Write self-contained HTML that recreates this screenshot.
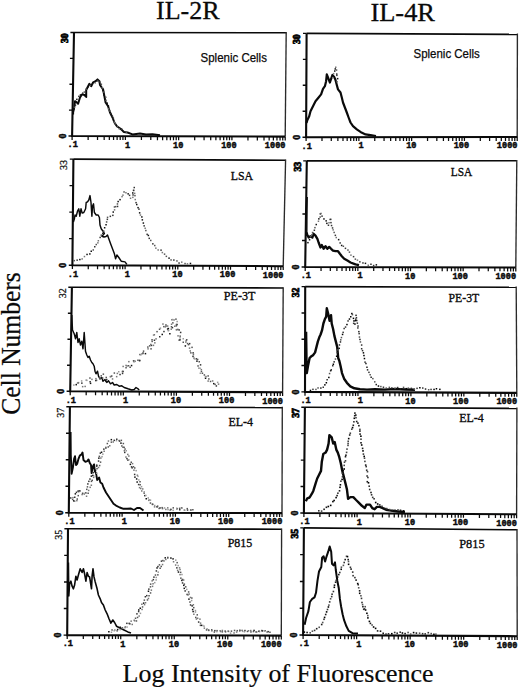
<!DOCTYPE html><html><head><meta charset="utf-8"><style>html,body{margin:0;padding:0;background:#fff;width:520px;height:689px;overflow:hidden}svg{display:block}text{font-family:"Liberation Serif",serif}</style></head><body>
<svg width="520" height="689" viewBox="0 0 520 689">
<rect width="520" height="689" fill="#fff"/>
<text x="156.0" y="19.3" font-size="26.2" fill="#0a0a0a" stroke="#0a0a0a" stroke-width="0.3" textLength="63.6" lengthAdjust="spacingAndGlyphs">IL-2R</text>
<text x="370.4" y="21.1" font-size="26.2" fill="#0a0a0a" stroke="#0a0a0a" stroke-width="0.3" textLength="64.6" lengthAdjust="spacingAndGlyphs">IL-4R</text>
<text transform="translate(20.2,414.8) rotate(-90)" font-size="28.2" fill="#0a0a0a" stroke="#0a0a0a" stroke-width="0.25" textLength="142.6" lengthAdjust="spacingAndGlyphs">Cell Numbers</text>
<text x="122.6" y="681.6" font-size="26" fill="#0a0a0a" stroke="#0a0a0a" stroke-width="0.2" textLength="311" lengthAdjust="spacingAndGlyphs">Log Intensity of Fluorescence</text>
<path d="M74.00 32.50L286.20 32.80" fill="none" stroke="#0a0a0a" stroke-width="1.6"/>
<path d="M286.20 32.00L285.20 136.60" fill="none" stroke="#2a2a2a" stroke-width="1.35"/>
<path d="M74.00 32.50L72.10 136.00L285.20 136.60" fill="none" stroke="#0a0a0a" stroke-width="2.1" stroke-linejoin="miter"/>
<path d="M68.50 136.00H72.10M68.97 110.12H72.57M69.45 84.25H73.05M69.93 58.38H73.53M70.40 32.50H74.00" stroke="#0a0a0a" stroke-width="1.4"/>
<path d="M72.10 136.00v3.9M88.14 136.05v3.9M97.52 136.07v3.9M104.17 136.09v3.9M109.34 136.10v3.9M113.56 136.12v3.9M117.12 136.13v3.9M120.21 136.14v3.9M122.94 136.14v3.9M125.38 136.15v3.9M141.41 136.20v3.9M150.79 136.22v3.9M157.45 136.24v3.9M162.61 136.25v3.9M166.83 136.27v3.9M170.40 136.28v3.9M173.49 136.29v3.9M176.21 136.29v3.9M178.65 136.30v3.9M194.69 136.35v3.9M204.07 136.37v3.9M210.72 136.39v3.9M215.89 136.40v3.9M220.11 136.42v3.9M223.67 136.43v3.9M226.76 136.44v3.9M229.49 136.44v3.9M231.92 136.45v3.9M247.96 136.50v3.9M257.34 136.52v3.9M264.00 136.54v3.9M269.16 136.55v3.9M273.38 136.57v3.9M276.95 136.58v3.9M280.04 136.59v3.9M282.76 136.59v3.9M285.20 136.60v3.9" stroke="#0a0a0a" stroke-width="1.25"/>
<text x="72.7" y="147.3" style="font-family:'Liberation Mono',monospace" font-size="8.6" font-weight="bold" fill="#0a0a0a" stroke="#0a0a0a" stroke-width="0.45" text-anchor="middle">.1</text>
<text x="130.2" y="147.5" style="font-family:'Liberation Mono',monospace" font-size="8.6" font-weight="bold" fill="#0a0a0a" stroke="#0a0a0a" stroke-width="0.45" text-anchor="end">1</text>
<text x="183.4" y="147.6" style="font-family:'Liberation Mono',monospace" font-size="8.6" font-weight="bold" fill="#0a0a0a" stroke="#0a0a0a" stroke-width="0.45" text-anchor="end">10</text>
<text x="236.7" y="147.8" style="font-family:'Liberation Mono',monospace" font-size="8.6" font-weight="bold" fill="#0a0a0a" stroke="#0a0a0a" stroke-width="0.45" text-anchor="end">100</text>
<text x="285.5" y="147.9" style="font-family:'Liberation Mono',monospace" font-size="8.6" font-weight="bold" fill="#0a0a0a" stroke="#0a0a0a" stroke-width="0.45" text-anchor="end">1000</text>
<text transform="translate(67.8,33.5) rotate(-90)" font-size="9.6" font-weight="bold" fill="#0a0a0a" stroke="#0a0a0a" stroke-width="0.9" text-anchor="end">30</text>
<text transform="translate(66.1,136.0) rotate(-90)" font-size="10" font-weight="bold" fill="#0a0a0a" stroke="#0a0a0a" stroke-width="0.5" text-anchor="middle">0</text>
<text x="200.6" y="62.0" style="font-family:'Liberation Sans',sans-serif" font-size="12.6" fill="#0a0a0a" stroke="#0a0a0a" stroke-width="0.25" textLength="66.3" lengthAdjust="spacingAndGlyphs">Splenic Cells</text>
<path d="M73.1 114.5 L73.1 112.5 L74.4 106.2 L75.0 101.2 L76.9 102.5 L78.1 103.8 L80.0 97.5 L81.9 94.4 L84.4 95.0 L86.2 96.9 L86.2 90.0 L88.1 86.2 L89.4 83.8 L91.2 86.2 L93.1 82.5 L95.6 81.2 L97.5 79.4 L99.4 81.2 L100.0 85.0 L103.1 89.4 L104.4 96.2 L105.6 102.5 L108.1 106.2 L110.0 112.5 L112.5 117.5 L114.4 122.5 L116.9 126.2 L120.6 128.8 L123.8 131.9 L127.5 132.5 L132.5 134.4 L140.0 133.5 L146.0 134.5 L152.5 134.3 L160.0 135.2" fill="none" stroke="#0a0a0a" stroke-width="2.0" stroke-linejoin="round"/>
<rect x="73.1" y="108.7" width="1.5" height="1.5" fill="#111"/>
<rect x="73.6" y="106.6" width="1.5" height="1.5" fill="#555"/>
<rect x="74.7" y="104.5" width="1.5" height="1.5" fill="#333"/>
<rect x="74.9" y="101.0" width="1.5" height="1.5" fill="#111"/>
<rect x="76.1" y="98.6" width="1.5" height="1.5" fill="#111"/>
<rect x="78.1" y="95.6" width="1.5" height="1.5" fill="#333"/>
<rect x="79.7" y="94.2" width="1.5" height="1.5" fill="#111"/>
<rect x="82.0" y="92.4" width="1.5" height="1.5" fill="#333"/>
<rect x="83.6" y="91.3" width="1.5" height="1.5" fill="#555"/>
<rect x="85.4" y="88.4" width="1.5" height="1.5" fill="#555"/>
<rect x="87.1" y="86.3" width="1.5" height="1.5" fill="#111"/>
<rect x="89.4" y="84.6" width="1.5" height="1.5" fill="#555"/>
<rect x="91.5" y="83.5" width="1.5" height="1.5" fill="#111"/>
<rect x="94.5" y="82.1" width="1.5" height="1.5" fill="#777"/>
<rect x="97.0" y="80.5" width="1.5" height="1.5" fill="#777"/>
<rect x="98.8" y="81.2" width="1.5" height="1.5" fill="#333"/>
<rect x="100.6" y="83.5" width="1.5" height="1.5" fill="#555"/>
<rect x="101.6" y="87.0" width="1.5" height="1.5" fill="#777"/>
<rect x="102.1" y="89.9" width="1.5" height="1.5" fill="#111"/>
<rect x="102.9" y="91.3" width="1.5" height="1.5" fill="#555"/>
<rect x="103.4" y="94.5" width="1.5" height="1.5" fill="#111"/>
<rect x="105.0" y="96.5" width="1.5" height="1.5" fill="#555"/>
<rect x="105.5" y="99.6" width="1.5" height="1.5" fill="#777"/>
<rect x="106.5" y="102.4" width="1.5" height="1.5" fill="#111"/>
<rect x="107.6" y="105.1" width="1.5" height="1.5" fill="#111"/>
<rect x="107.8" y="108.2" width="1.5" height="1.5" fill="#777"/>
<rect x="109.1" y="110.2" width="1.5" height="1.5" fill="#555"/>
<rect x="110.2" y="112.8" width="1.5" height="1.5" fill="#333"/>
<rect x="111.6" y="115.5" width="1.5" height="1.5" fill="#333"/>
<rect x="112.6" y="117.6" width="1.5" height="1.5" fill="#333"/>
<rect x="113.4" y="121.4" width="1.5" height="1.5" fill="#777"/>
<rect x="114.4" y="123.1" width="1.5" height="1.5" fill="#555"/>
<rect x="116.7" y="125.9" width="1.5" height="1.5" fill="#555"/>
<rect x="118.6" y="128.2" width="1.5" height="1.5" fill="#777"/>
<rect x="121.0" y="128.5" width="1.5" height="1.5" fill="#333"/>
<rect x="122.7" y="130.8" width="1.5" height="1.5" fill="#111"/>
<rect x="125.6" y="131.7" width="1.5" height="1.5" fill="#555"/>
<path d="M73.40 159.10L285.60 160.30" fill="none" stroke="#0a0a0a" stroke-width="1.6"/>
<path d="M285.60 159.50L283.20 266.20" fill="none" stroke="#2a2a2a" stroke-width="1.35"/>
<path d="M73.40 159.10L72.40 265.20L283.20 266.20" fill="none" stroke="#0a0a0a" stroke-width="2.1" stroke-linejoin="miter"/>
<path d="M68.80 265.20H72.40M69.05 238.67H72.65M69.30 212.15H72.90M69.55 185.62H73.15M69.80 159.10H73.40" stroke="#0a0a0a" stroke-width="1.4"/>
<path d="M72.40 265.20v3.9M88.26 265.28v3.9M97.54 265.32v3.9M104.13 265.35v3.9M109.24 265.37v3.9M113.41 265.39v3.9M116.94 265.41v3.9M119.99 265.43v3.9M122.69 265.44v3.9M125.10 265.45v3.9M140.96 265.53v3.9M150.24 265.57v3.9M156.83 265.60v3.9M161.94 265.62v3.9M166.11 265.64v3.9M169.64 265.66v3.9M172.69 265.68v3.9M175.39 265.69v3.9M177.80 265.70v3.9M193.66 265.78v3.9M202.94 265.82v3.9M209.53 265.85v3.9M214.64 265.87v3.9M218.81 265.89v3.9M222.34 265.91v3.9M225.39 265.93v3.9M228.09 265.94v3.9M230.50 265.95v3.9M246.36 266.03v3.9M255.64 266.07v3.9M262.23 266.10v3.9M267.34 266.12v3.9M271.51 266.14v3.9M275.04 266.16v3.9M278.09 266.18v3.9M280.79 266.19v3.9M283.20 266.20v3.9" stroke="#0a0a0a" stroke-width="1.25"/>
<text x="73.0" y="276.5" style="font-family:'Liberation Mono',monospace" font-size="8.6" font-weight="bold" fill="#0a0a0a" stroke="#0a0a0a" stroke-width="0.45" text-anchor="middle">.1</text>
<text x="129.9" y="276.8" style="font-family:'Liberation Mono',monospace" font-size="8.6" font-weight="bold" fill="#0a0a0a" stroke="#0a0a0a" stroke-width="0.45" text-anchor="end">1</text>
<text x="182.6" y="277.0" style="font-family:'Liberation Mono',monospace" font-size="8.6" font-weight="bold" fill="#0a0a0a" stroke="#0a0a0a" stroke-width="0.45" text-anchor="end">10</text>
<text x="235.3" y="277.2" style="font-family:'Liberation Mono',monospace" font-size="8.6" font-weight="bold" fill="#0a0a0a" stroke="#0a0a0a" stroke-width="0.45" text-anchor="end">100</text>
<text x="283.5" y="277.5" style="font-family:'Liberation Mono',monospace" font-size="8.6" font-weight="bold" fill="#0a0a0a" stroke="#0a0a0a" stroke-width="0.45" text-anchor="end">1000</text>
<text transform="translate(67.2,160.1) rotate(-90)" font-size="10" fill="#0a0a0a" stroke="#0a0a0a" stroke-width="0.25" text-anchor="end">33</text>
<text transform="translate(66.4,265.2) rotate(-90)" font-size="10" font-weight="bold" fill="#0a0a0a" stroke="#0a0a0a" stroke-width="0.5" text-anchor="middle">0</text>
<text x="230.8" y="179.7" font-size="13.3" fill="#0a0a0a" stroke="#0a0a0a" stroke-width="0.35" textLength="22.3" lengthAdjust="spacingAndGlyphs">LSA</text>
<path d="M73.4 222.0 L74.4 218.8 L75.0 215.0 L76.2 216.2 L77.5 211.2 L78.8 208.8 L79.8 216.2 L81.0 208.8 L82.2 213.1 L83.8 212.5 L85.6 208.8 L86.2 202.5 L87.5 201.9 L88.8 200.0 L90.0 195.6 L91.0 202.5 L91.9 216.2 L92.5 206.2 L93.5 203.8 L94.4 212.5 L96.2 215.0 L98.1 215.0 L99.4 217.5 L100.0 225.0 L101.2 228.8 L103.1 231.2 L104.4 233.5 L101.9 236.2 L104.0 237.0 L106.0 236.5 L107.5 235.0 L108.8 238.8 L110.6 243.8 L112.5 248.8 L114.4 253.8 L115.6 258.8 L116.9 255.0 L118.8 257.5 L121.2 261.2 L125.0 261.9 L126.9 264.4" fill="none" stroke="#0a0a0a" stroke-width="1.45" stroke-linejoin="round"/>
<rect x="73.5" y="259.9" width="1.5" height="1.5" fill="#555"/>
<rect x="76.4" y="259.4" width="1.5" height="1.5" fill="#333"/>
<rect x="79.1" y="258.8" width="1.5" height="1.5" fill="#111"/>
<rect x="81.4" y="258.2" width="1.5" height="1.5" fill="#777"/>
<rect x="83.7" y="255.8" width="1.5" height="1.5" fill="#777"/>
<rect x="86.3" y="253.7" width="1.5" height="1.5" fill="#111"/>
<rect x="89.1" y="253.2" width="1.5" height="1.5" fill="#111"/>
<rect x="90.5" y="250.5" width="1.5" height="1.5" fill="#111"/>
<rect x="92.5" y="249.2" width="1.5" height="1.5" fill="#555"/>
<rect x="94.0" y="246.0" width="1.5" height="1.5" fill="#333"/>
<rect x="95.5" y="243.8" width="1.5" height="1.5" fill="#555"/>
<rect x="97.1" y="242.1" width="1.5" height="1.5" fill="#777"/>
<rect x="97.6" y="240.0" width="1.5" height="1.5" fill="#777"/>
<rect x="99.4" y="236.7" width="1.5" height="1.5" fill="#333"/>
<rect x="100.5" y="234.4" width="1.5" height="1.5" fill="#555"/>
<rect x="102.1" y="232.5" width="1.5" height="1.5" fill="#111"/>
<rect x="103.0" y="230.4" width="1.5" height="1.5" fill="#555"/>
<rect x="103.9" y="227.0" width="1.5" height="1.5" fill="#111"/>
<rect x="105.3" y="224.0" width="1.5" height="1.5" fill="#111"/>
<rect x="105.9" y="221.2" width="1.5" height="1.5" fill="#555"/>
<rect x="106.6" y="218.6" width="1.5" height="1.5" fill="#333"/>
<rect x="106.8" y="216.6" width="1.5" height="1.5" fill="#555"/>
<rect x="109.6" y="215.6" width="1.5" height="1.5" fill="#333"/>
<rect x="112.1" y="214.6" width="1.5" height="1.5" fill="#333"/>
<rect x="112.5" y="211.3" width="1.5" height="1.5" fill="#111"/>
<rect x="113.8" y="209.1" width="1.5" height="1.5" fill="#777"/>
<rect x="113.7" y="206.2" width="1.5" height="1.5" fill="#555"/>
<rect x="114.9" y="205.9" width="1.5" height="1.5" fill="#555"/>
<rect x="116.8" y="205.7" width="1.5" height="1.5" fill="#333"/>
<rect x="116.7" y="203.2" width="1.5" height="1.5" fill="#555"/>
<rect x="117.4" y="200.8" width="1.5" height="1.5" fill="#111"/>
<rect x="119.3" y="198.9" width="1.5" height="1.5" fill="#111"/>
<rect x="121.3" y="195.9" width="1.5" height="1.5" fill="#777"/>
<rect x="122.2" y="194.4" width="1.5" height="1.5" fill="#777"/>
<rect x="123.3" y="191.2" width="1.5" height="1.5" fill="#555"/>
<rect x="125.2" y="192.0" width="1.5" height="1.5" fill="#777"/>
<rect x="127.4" y="193.1" width="1.5" height="1.5" fill="#111"/>
<rect x="128.8" y="194.6" width="1.5" height="1.5" fill="#333"/>
<rect x="129.8" y="197.5" width="1.5" height="1.5" fill="#777"/>
<rect x="132.1" y="196.6" width="1.5" height="1.5" fill="#777"/>
<rect x="132.3" y="194.2" width="1.5" height="1.5" fill="#333"/>
<rect x="132.0" y="192.2" width="1.5" height="1.5" fill="#111"/>
<rect x="132.8" y="189.7" width="1.5" height="1.5" fill="#777"/>
<rect x="133.5" y="186.8" width="1.5" height="1.5" fill="#333"/>
<rect x="132.9" y="189.6" width="1.5" height="1.5" fill="#333"/>
<rect x="133.9" y="192.6" width="1.5" height="1.5" fill="#777"/>
<rect x="134.2" y="194.9" width="1.5" height="1.5" fill="#555"/>
<rect x="134.5" y="198.8" width="1.5" height="1.5" fill="#777"/>
<rect x="135.3" y="201.9" width="1.5" height="1.5" fill="#333"/>
<rect x="136.0" y="203.8" width="1.5" height="1.5" fill="#111"/>
<rect x="137.3" y="206.9" width="1.5" height="1.5" fill="#111"/>
<rect x="138.2" y="208.4" width="1.5" height="1.5" fill="#333"/>
<rect x="138.9" y="212.1" width="1.5" height="1.5" fill="#111"/>
<rect x="139.7" y="214.3" width="1.5" height="1.5" fill="#777"/>
<rect x="141.1" y="216.2" width="1.5" height="1.5" fill="#111"/>
<rect x="141.6" y="219.1" width="1.5" height="1.5" fill="#111"/>
<rect x="142.6" y="222.3" width="1.5" height="1.5" fill="#111"/>
<rect x="143.4" y="225.1" width="1.5" height="1.5" fill="#333"/>
<rect x="144.4" y="227.5" width="1.5" height="1.5" fill="#777"/>
<rect x="145.1" y="229.8" width="1.5" height="1.5" fill="#555"/>
<rect x="146.4" y="233.6" width="1.5" height="1.5" fill="#333"/>
<rect x="147.6" y="234.7" width="1.5" height="1.5" fill="#111"/>
<rect x="148.5" y="237.6" width="1.5" height="1.5" fill="#333"/>
<rect x="150.0" y="239.7" width="1.5" height="1.5" fill="#555"/>
<rect x="152.1" y="243.1" width="1.5" height="1.5" fill="#333"/>
<rect x="154.0" y="244.8" width="1.5" height="1.5" fill="#555"/>
<rect x="155.1" y="247.4" width="1.5" height="1.5" fill="#777"/>
<rect x="157.4" y="249.2" width="1.5" height="1.5" fill="#777"/>
<rect x="160.3" y="249.4" width="1.5" height="1.5" fill="#333"/>
<rect x="161.6" y="251.8" width="1.5" height="1.5" fill="#777"/>
<rect x="163.8" y="253.4" width="1.5" height="1.5" fill="#555"/>
<rect x="165.6" y="255.6" width="1.5" height="1.5" fill="#555"/>
<rect x="168.3" y="257.4" width="1.5" height="1.5" fill="#111"/>
<rect x="170.3" y="259.2" width="1.5" height="1.5" fill="#555"/>
<rect x="173.1" y="259.3" width="1.5" height="1.5" fill="#333"/>
<rect x="176.2" y="260.2" width="1.5" height="1.5" fill="#555"/>
<rect x="178.3" y="262.3" width="1.5" height="1.5" fill="#333"/>
<rect x="181.0" y="261.4" width="1.5" height="1.5" fill="#777"/>
<rect x="184.3" y="262.8" width="1.5" height="1.5" fill="#555"/>
<rect x="186.7" y="263.1" width="1.5" height="1.5" fill="#777"/>
<rect x="189.7" y="262.7" width="1.5" height="1.5" fill="#111"/>
<path d="M71.90 287.30L283.20 288.00" fill="none" stroke="#0a0a0a" stroke-width="1.6"/>
<path d="M283.20 287.20L282.60 392.20" fill="none" stroke="#2a2a2a" stroke-width="1.35"/>
<path d="M71.90 287.30L70.20 391.30L282.60 392.20" fill="none" stroke="#0a0a0a" stroke-width="2.1" stroke-linejoin="miter"/>
<path d="M66.60 391.30H70.20M67.03 365.30H70.62M67.45 339.30H71.05M67.88 313.30H71.48M68.30 287.30H71.90" stroke="#0a0a0a" stroke-width="1.4"/>
<path d="M70.20 391.30v3.9M86.18 391.37v3.9M95.54 391.41v3.9M102.17 391.44v3.9M107.32 391.46v3.9M111.52 391.48v3.9M115.07 391.49v3.9M118.15 391.50v3.9M120.87 391.51v3.9M123.30 391.52v3.9M139.28 391.59v3.9M148.64 391.63v3.9M155.27 391.66v3.9M160.42 391.68v3.9M164.62 391.70v3.9M168.17 391.72v3.9M171.25 391.73v3.9M173.97 391.74v3.9M176.40 391.75v3.9M192.38 391.82v3.9M201.74 391.86v3.9M208.37 391.89v3.9M213.52 391.91v3.9M217.72 391.93v3.9M221.27 391.94v3.9M224.35 391.95v3.9M227.07 391.96v3.9M229.50 391.98v3.9M245.48 392.04v3.9M254.84 392.08v3.9M261.47 392.11v3.9M266.62 392.13v3.9M270.82 392.15v3.9M274.37 392.17v3.9M277.45 392.18v3.9M280.17 392.19v3.9M282.60 392.20v3.9" stroke="#0a0a0a" stroke-width="1.25"/>
<text x="70.8" y="402.6" style="font-family:'Liberation Mono',monospace" font-size="8.6" font-weight="bold" fill="#0a0a0a" stroke="#0a0a0a" stroke-width="0.45" text-anchor="middle">.1</text>
<text x="128.1" y="402.8" style="font-family:'Liberation Mono',monospace" font-size="8.6" font-weight="bold" fill="#0a0a0a" stroke="#0a0a0a" stroke-width="0.45" text-anchor="end">1</text>
<text x="181.2" y="403.1" style="font-family:'Liberation Mono',monospace" font-size="8.6" font-weight="bold" fill="#0a0a0a" stroke="#0a0a0a" stroke-width="0.45" text-anchor="end">10</text>
<text x="234.3" y="403.3" style="font-family:'Liberation Mono',monospace" font-size="8.6" font-weight="bold" fill="#0a0a0a" stroke="#0a0a0a" stroke-width="0.45" text-anchor="end">100</text>
<text x="282.9" y="403.5" style="font-family:'Liberation Mono',monospace" font-size="8.6" font-weight="bold" fill="#0a0a0a" stroke="#0a0a0a" stroke-width="0.45" text-anchor="end">1000</text>
<text transform="translate(65.7,288.3) rotate(-90)" font-size="10" fill="#0a0a0a" stroke="#0a0a0a" stroke-width="0.25" text-anchor="end">32</text>
<text transform="translate(64.2,391.3) rotate(-90)" font-size="10" font-weight="bold" fill="#0a0a0a" stroke="#0a0a0a" stroke-width="0.5" text-anchor="middle">0</text>
<text x="223.8" y="300.4" font-size="13.3" fill="#0a0a0a" stroke="#0a0a0a" stroke-width="0.35" textLength="31.6" lengthAdjust="spacingAndGlyphs">PE-3T</text>
<path d="M71.8 315.0 L72.5 330.0 L74.2 333.8 L75.5 338.8 L76.8 332.5 L78.0 342.5 L79.2 338.8 L80.5 345.0 L81.8 341.2 L83.0 348.8 L84.2 332.5 L85.5 351.2 L86.8 355.0 L88.0 357.5 L89.2 356.2 L90.5 360.0 L91.8 362.5 L93.0 363.8 L94.2 366.2 L95.0 371.2 L96.0 373.8 L97.5 371.2 L98.5 376.2 L100.0 378.8 L101.8 377.5 L103.0 381.2 L105.0 379.5 L106.8 382.5 L108.5 380.8 L110.5 383.8 L112.5 382.5 L114.2 385.0 L116.8 384.5 L119.2 386.2 L121.8 385.8 L124.2 387.5 L128.0 388.8 L131.8 390.0 L134.2 389.5 L136.0 387.5 L138.0 388.8 L139.2 390.0" fill="none" stroke="#0a0a0a" stroke-width="1.45" stroke-linejoin="round"/>
<rect x="75.5" y="383.9" width="1.5" height="1.5" fill="#111"/>
<rect x="76.9" y="382.5" width="1.5" height="1.5" fill="#111"/>
<rect x="81.1" y="382.4" width="1.5" height="1.5" fill="#333"/>
<rect x="81.9" y="385.9" width="1.5" height="1.5" fill="#777"/>
<rect x="84.4" y="385.7" width="1.5" height="1.5" fill="#777"/>
<rect x="89.4" y="381.0" width="1.5" height="1.5" fill="#333"/>
<rect x="89.8" y="382.6" width="1.5" height="1.5" fill="#111"/>
<rect x="95.0" y="379.8" width="1.5" height="1.5" fill="#333"/>
<rect x="95.8" y="379.6" width="1.5" height="1.5" fill="#555"/>
<rect x="99.3" y="378.3" width="1.5" height="1.5" fill="#777"/>
<rect x="101.9" y="377.3" width="1.5" height="1.5" fill="#555"/>
<rect x="105.3" y="380.6" width="1.5" height="1.5" fill="#111"/>
<rect x="106.0" y="378.8" width="1.5" height="1.5" fill="#333"/>
<rect x="110.1" y="375.8" width="1.5" height="1.5" fill="#777"/>
<rect x="111.8" y="378.2" width="1.5" height="1.5" fill="#777"/>
<rect x="115.9" y="375.9" width="1.5" height="1.5" fill="#777"/>
<rect x="119.3" y="373.8" width="1.5" height="1.5" fill="#333"/>
<rect x="121.8" y="372.7" width="1.5" height="1.5" fill="#333"/>
<rect x="122.2" y="370.7" width="1.5" height="1.5" fill="#111"/>
<rect x="125.3" y="367.0" width="1.5" height="1.5" fill="#555"/>
<rect x="126.3" y="365.2" width="1.5" height="1.5" fill="#777"/>
<rect x="129.4" y="366.5" width="1.5" height="1.5" fill="#555"/>
<rect x="130.8" y="364.8" width="1.5" height="1.5" fill="#111"/>
<rect x="133.0" y="360.8" width="1.5" height="1.5" fill="#777"/>
<rect x="134.2" y="360.5" width="1.5" height="1.5" fill="#555"/>
<rect x="139.0" y="359.8" width="1.5" height="1.5" fill="#333"/>
<rect x="138.7" y="359.8" width="1.5" height="1.5" fill="#333"/>
<rect x="141.3" y="353.0" width="1.5" height="1.5" fill="#777"/>
<rect x="142.3" y="352.3" width="1.5" height="1.5" fill="#333"/>
<rect x="144.7" y="352.9" width="1.5" height="1.5" fill="#111"/>
<rect x="147.3" y="348.1" width="1.5" height="1.5" fill="#777"/>
<rect x="150.3" y="348.1" width="1.5" height="1.5" fill="#555"/>
<rect x="150.7" y="344.7" width="1.5" height="1.5" fill="#333"/>
<rect x="152.7" y="344.6" width="1.5" height="1.5" fill="#777"/>
<rect x="154.1" y="342.1" width="1.5" height="1.5" fill="#777"/>
<rect x="153.7" y="339.5" width="1.5" height="1.5" fill="#333"/>
<rect x="155.3" y="338.1" width="1.5" height="1.5" fill="#777"/>
<rect x="159.0" y="336.0" width="1.5" height="1.5" fill="#333"/>
<rect x="161.5" y="333.7" width="1.5" height="1.5" fill="#111"/>
<rect x="163.2" y="330.8" width="1.5" height="1.5" fill="#333"/>
<rect x="163.1" y="325.9" width="1.5" height="1.5" fill="#555"/>
<rect x="166.9" y="325.3" width="1.5" height="1.5" fill="#777"/>
<rect x="166.9" y="328.3" width="1.5" height="1.5" fill="#333"/>
<rect x="167.6" y="327.8" width="1.5" height="1.5" fill="#111"/>
<rect x="169.1" y="333.0" width="1.5" height="1.5" fill="#111"/>
<rect x="170.5" y="328.4" width="1.5" height="1.5" fill="#777"/>
<rect x="170.7" y="326.0" width="1.5" height="1.5" fill="#555"/>
<rect x="171.7" y="326.9" width="1.5" height="1.5" fill="#333"/>
<rect x="174.0" y="325.5" width="1.5" height="1.5" fill="#777"/>
<rect x="175.2" y="318.4" width="1.5" height="1.5" fill="#555"/>
<rect x="176.3" y="323.8" width="1.5" height="1.5" fill="#333"/>
<rect x="175.7" y="323.8" width="1.5" height="1.5" fill="#555"/>
<rect x="178.4" y="329.2" width="1.5" height="1.5" fill="#333"/>
<rect x="177.1" y="328.7" width="1.5" height="1.5" fill="#555"/>
<rect x="179.9" y="331.7" width="1.5" height="1.5" fill="#333"/>
<rect x="179.4" y="335.4" width="1.5" height="1.5" fill="#555"/>
<rect x="179.2" y="339.1" width="1.5" height="1.5" fill="#111"/>
<rect x="182.5" y="341.5" width="1.5" height="1.5" fill="#555"/>
<rect x="184.6" y="345.2" width="1.5" height="1.5" fill="#111"/>
<rect x="185.4" y="339.8" width="1.5" height="1.5" fill="#777"/>
<rect x="188.9" y="342.9" width="1.5" height="1.5" fill="#333"/>
<rect x="187.8" y="343.9" width="1.5" height="1.5" fill="#555"/>
<rect x="191.3" y="346.6" width="1.5" height="1.5" fill="#555"/>
<rect x="192.4" y="352.1" width="1.5" height="1.5" fill="#333"/>
<rect x="192.6" y="355.5" width="1.5" height="1.5" fill="#777"/>
<rect x="192.7" y="353.5" width="1.5" height="1.5" fill="#777"/>
<rect x="195.6" y="358.1" width="1.5" height="1.5" fill="#333"/>
<rect x="196.2" y="360.4" width="1.5" height="1.5" fill="#111"/>
<rect x="198.5" y="361.0" width="1.5" height="1.5" fill="#555"/>
<rect x="199.8" y="364.1" width="1.5" height="1.5" fill="#333"/>
<rect x="200.7" y="370.7" width="1.5" height="1.5" fill="#555"/>
<rect x="200.6" y="368.9" width="1.5" height="1.5" fill="#777"/>
<rect x="203.6" y="374.2" width="1.5" height="1.5" fill="#555"/>
<rect x="204.8" y="377.5" width="1.5" height="1.5" fill="#111"/>
<rect x="205.1" y="375.8" width="1.5" height="1.5" fill="#555"/>
<rect x="208.1" y="378.2" width="1.5" height="1.5" fill="#555"/>
<rect x="209.8" y="380.7" width="1.5" height="1.5" fill="#555"/>
<rect x="213.0" y="382.9" width="1.5" height="1.5" fill="#111"/>
<rect x="215.6" y="385.2" width="1.5" height="1.5" fill="#333"/>
<rect x="217.8" y="383.4" width="1.5" height="1.5" fill="#777"/>
<rect x="73.1" y="384.3" width="1.5" height="1.5" fill="#999"/>
<rect x="77.0" y="382.5" width="1.5" height="1.5" fill="#999"/>
<rect x="77.8" y="381.9" width="1.5" height="1.5" fill="#777"/>
<rect x="80.9" y="380.2" width="1.5" height="1.5" fill="#999"/>
<rect x="85.4" y="379.4" width="1.5" height="1.5" fill="#999"/>
<rect x="86.1" y="379.6" width="1.5" height="1.5" fill="#999"/>
<rect x="89.2" y="377.3" width="1.5" height="1.5" fill="#555"/>
<rect x="91.2" y="378.6" width="1.5" height="1.5" fill="#777"/>
<rect x="95.2" y="377.9" width="1.5" height="1.5" fill="#777"/>
<rect x="99.0" y="377.1" width="1.5" height="1.5" fill="#555"/>
<rect x="100.5" y="375.1" width="1.5" height="1.5" fill="#555"/>
<rect x="102.6" y="373.4" width="1.5" height="1.5" fill="#555"/>
<rect x="105.5" y="376.7" width="1.5" height="1.5" fill="#555"/>
<rect x="109.6" y="375.9" width="1.5" height="1.5" fill="#777"/>
<rect x="111.0" y="375.3" width="1.5" height="1.5" fill="#555"/>
<rect x="113.6" y="372.3" width="1.5" height="1.5" fill="#555"/>
<rect x="116.6" y="372.7" width="1.5" height="1.5" fill="#777"/>
<rect x="118.0" y="371.0" width="1.5" height="1.5" fill="#999"/>
<rect x="121.7" y="370.8" width="1.5" height="1.5" fill="#555"/>
<rect x="122.4" y="365.7" width="1.5" height="1.5" fill="#777"/>
<rect x="125.3" y="364.7" width="1.5" height="1.5" fill="#777"/>
<rect x="127.8" y="365.0" width="1.5" height="1.5" fill="#555"/>
<rect x="128.1" y="360.9" width="1.5" height="1.5" fill="#777"/>
<rect x="132.8" y="360.0" width="1.5" height="1.5" fill="#555"/>
<rect x="133.7" y="360.9" width="1.5" height="1.5" fill="#999"/>
<rect x="137.2" y="359.5" width="1.5" height="1.5" fill="#555"/>
<rect x="139.2" y="353.8" width="1.5" height="1.5" fill="#555"/>
<rect x="140.2" y="354.0" width="1.5" height="1.5" fill="#999"/>
<rect x="142.5" y="352.7" width="1.5" height="1.5" fill="#777"/>
<rect x="142.8" y="350.4" width="1.5" height="1.5" fill="#555"/>
<rect x="147.1" y="346.3" width="1.5" height="1.5" fill="#555"/>
<rect x="148.9" y="345.1" width="1.5" height="1.5" fill="#555"/>
<rect x="150.0" y="343.7" width="1.5" height="1.5" fill="#777"/>
<rect x="151.3" y="339.0" width="1.5" height="1.5" fill="#555"/>
<rect x="151.4" y="340.7" width="1.5" height="1.5" fill="#555"/>
<rect x="152.8" y="334.4" width="1.5" height="1.5" fill="#999"/>
<rect x="153.6" y="334.0" width="1.5" height="1.5" fill="#777"/>
<rect x="156.3" y="330.9" width="1.5" height="1.5" fill="#555"/>
<rect x="158.8" y="328.5" width="1.5" height="1.5" fill="#555"/>
<rect x="159.7" y="327.4" width="1.5" height="1.5" fill="#999"/>
<rect x="162.2" y="323.3" width="1.5" height="1.5" fill="#777"/>
<rect x="165.2" y="324.2" width="1.5" height="1.5" fill="#555"/>
<rect x="164.6" y="326.1" width="1.5" height="1.5" fill="#777"/>
<rect x="165.4" y="325.4" width="1.5" height="1.5" fill="#777"/>
<rect x="167.6" y="329.8" width="1.5" height="1.5" fill="#777"/>
<rect x="167.8" y="329.7" width="1.5" height="1.5" fill="#999"/>
<rect x="170.8" y="323.5" width="1.5" height="1.5" fill="#777"/>
<rect x="172.1" y="322.1" width="1.5" height="1.5" fill="#555"/>
<rect x="171.1" y="319.0" width="1.5" height="1.5" fill="#777"/>
<rect x="171.8" y="318.8" width="1.5" height="1.5" fill="#999"/>
<rect x="173.3" y="319.2" width="1.5" height="1.5" fill="#777"/>
<rect x="176.4" y="320.8" width="1.5" height="1.5" fill="#999"/>
<rect x="175.6" y="325.1" width="1.5" height="1.5" fill="#555"/>
<rect x="175.6" y="329.0" width="1.5" height="1.5" fill="#777"/>
<rect x="176.0" y="328.9" width="1.5" height="1.5" fill="#777"/>
<rect x="177.3" y="335.1" width="1.5" height="1.5" fill="#777"/>
<rect x="178.4" y="339.4" width="1.5" height="1.5" fill="#555"/>
<rect x="179.3" y="337.1" width="1.5" height="1.5" fill="#999"/>
<rect x="182.5" y="338.0" width="1.5" height="1.5" fill="#999"/>
<rect x="185.1" y="341.3" width="1.5" height="1.5" fill="#777"/>
<rect x="186.0" y="339.0" width="1.5" height="1.5" fill="#555"/>
<rect x="186.8" y="342.8" width="1.5" height="1.5" fill="#555"/>
<rect x="188.8" y="347.4" width="1.5" height="1.5" fill="#777"/>
<rect x="189.5" y="350.2" width="1.5" height="1.5" fill="#777"/>
<rect x="190.1" y="352.1" width="1.5" height="1.5" fill="#555"/>
<rect x="192.1" y="355.7" width="1.5" height="1.5" fill="#555"/>
<rect x="193.2" y="357.3" width="1.5" height="1.5" fill="#777"/>
<rect x="193.7" y="358.1" width="1.5" height="1.5" fill="#999"/>
<rect x="196.9" y="358.7" width="1.5" height="1.5" fill="#555"/>
<rect x="197.3" y="365.2" width="1.5" height="1.5" fill="#555"/>
<rect x="198.0" y="367.4" width="1.5" height="1.5" fill="#999"/>
<rect x="199.3" y="367.5" width="1.5" height="1.5" fill="#999"/>
<rect x="199.6" y="372.5" width="1.5" height="1.5" fill="#999"/>
<rect x="201.7" y="372.5" width="1.5" height="1.5" fill="#555"/>
<rect x="204.7" y="376.1" width="1.5" height="1.5" fill="#999"/>
<rect x="207.4" y="375.2" width="1.5" height="1.5" fill="#555"/>
<rect x="207.4" y="380.3" width="1.5" height="1.5" fill="#777"/>
<rect x="211.9" y="380.2" width="1.5" height="1.5" fill="#777"/>
<rect x="214.3" y="383.6" width="1.5" height="1.5" fill="#555"/>
<rect x="216.9" y="381.6" width="1.5" height="1.5" fill="#999"/>
<path d="M69.90 406.80L282.30 407.60" fill="none" stroke="#0a0a0a" stroke-width="1.6"/>
<path d="M282.30 406.80L282.00 513.10" fill="none" stroke="#2a2a2a" stroke-width="1.35"/>
<path d="M69.90 406.80L68.80 512.80L282.00 513.10" fill="none" stroke="#0a0a0a" stroke-width="2.1" stroke-linejoin="miter"/>
<path d="M65.20 512.80H68.80M65.48 486.30H69.08M65.75 459.80H69.35M66.03 433.30H69.62M66.30 406.80H69.90" stroke="#0a0a0a" stroke-width="1.4"/>
<path d="M68.80 512.80v3.9M84.84 512.82v3.9M94.23 512.84v3.9M100.89 512.85v3.9M106.06 512.85v3.9M110.28 512.86v3.9M113.84 512.86v3.9M116.93 512.87v3.9M119.66 512.87v3.9M122.10 512.88v3.9M138.14 512.90v3.9M147.53 512.91v3.9M154.19 512.92v3.9M159.36 512.93v3.9M163.58 512.93v3.9M167.14 512.94v3.9M170.23 512.94v3.9M172.96 512.95v3.9M175.40 512.95v3.9M191.44 512.97v3.9M200.83 512.99v3.9M207.49 513.00v3.9M212.66 513.00v3.9M216.88 513.01v3.9M220.44 513.01v3.9M223.53 513.02v3.9M226.26 513.02v3.9M228.70 513.02v3.9M244.74 513.05v3.9M254.13 513.06v3.9M260.79 513.07v3.9M265.96 513.08v3.9M270.18 513.08v3.9M273.74 513.09v3.9M276.83 513.09v3.9M279.56 513.10v3.9M282.00 513.10v3.9" stroke="#0a0a0a" stroke-width="1.25"/>
<text x="69.4" y="524.1" style="font-family:'Liberation Mono',monospace" font-size="8.6" font-weight="bold" fill="#0a0a0a" stroke="#0a0a0a" stroke-width="0.45" text-anchor="middle">.1</text>
<text x="126.9" y="524.2" style="font-family:'Liberation Mono',monospace" font-size="8.6" font-weight="bold" fill="#0a0a0a" stroke="#0a0a0a" stroke-width="0.45" text-anchor="end">1</text>
<text x="180.2" y="524.2" style="font-family:'Liberation Mono',monospace" font-size="8.6" font-weight="bold" fill="#0a0a0a" stroke="#0a0a0a" stroke-width="0.45" text-anchor="end">10</text>
<text x="233.5" y="524.3" style="font-family:'Liberation Mono',monospace" font-size="8.6" font-weight="bold" fill="#0a0a0a" stroke="#0a0a0a" stroke-width="0.45" text-anchor="end">100</text>
<text x="282.3" y="524.4" style="font-family:'Liberation Mono',monospace" font-size="8.6" font-weight="bold" fill="#0a0a0a" stroke="#0a0a0a" stroke-width="0.45" text-anchor="end">1000</text>
<text transform="translate(63.7,407.8) rotate(-90)" font-size="10" fill="#0a0a0a" stroke="#0a0a0a" stroke-width="0.25" text-anchor="end">37</text>
<text transform="translate(62.8,512.8) rotate(-90)" font-size="10" font-weight="bold" fill="#0a0a0a" stroke="#0a0a0a" stroke-width="0.5" text-anchor="middle">0</text>
<text x="228.5" y="426.3" font-size="13.3" fill="#0a0a0a" stroke="#0a0a0a" stroke-width="0.35" textLength="24.6" lengthAdjust="spacingAndGlyphs">EL-4</text>
<path d="M70.6 432.0 L70.8 455.0 L71.6 473.8 L72.9 467.5 L74.1 458.8 L75.0 456.2 L76.0 465.0 L77.2 463.8 L78.5 458.8 L79.8 455.6 L81.6 454.4 L82.5 452.5 L83.5 460.0 L85.4 461.9 L87.2 461.2 L88.5 459.4 L89.8 463.1 L91.0 465.0 L91.6 473.1 L92.9 466.2 L94.1 464.4 L94.8 471.2 L96.0 473.1 L97.2 480.0 L99.1 477.5 L100.4 482.5 L102.2 483.8 L103.5 487.5 L106.0 492.5 L108.5 496.2 L111.0 500.0 L113.5 503.8 L116.0 505.6 L119.8 507.5 L123.5 508.8 L127.2 508.8 L131.0 508.5 L134.0 510.0 L137.0 508.0 L140.0 508.0 L143.5 510.5" fill="none" stroke="#0a0a0a" stroke-width="1.9" stroke-linejoin="round"/>
<rect x="70.0" y="497.2" width="1.5" height="1.5" fill="#333"/>
<rect x="71.9" y="498.7" width="1.5" height="1.5" fill="#555"/>
<rect x="73.0" y="500.1" width="1.5" height="1.5" fill="#111"/>
<rect x="74.0" y="496.5" width="1.5" height="1.5" fill="#333"/>
<rect x="74.6" y="493.1" width="1.5" height="1.5" fill="#111"/>
<rect x="75.7" y="491.6" width="1.5" height="1.5" fill="#333"/>
<rect x="77.4" y="490.4" width="1.5" height="1.5" fill="#111"/>
<rect x="78.9" y="490.0" width="1.5" height="1.5" fill="#111"/>
<rect x="81.4" y="493.8" width="1.5" height="1.5" fill="#777"/>
<rect x="83.5" y="493.3" width="1.5" height="1.5" fill="#777"/>
<rect x="85.0" y="492.2" width="1.5" height="1.5" fill="#111"/>
<rect x="86.0" y="488.6" width="1.5" height="1.5" fill="#555"/>
<rect x="86.7" y="486.1" width="1.5" height="1.5" fill="#555"/>
<rect x="87.1" y="483.2" width="1.5" height="1.5" fill="#333"/>
<rect x="88.1" y="480.6" width="1.5" height="1.5" fill="#333"/>
<rect x="89.2" y="478.3" width="1.5" height="1.5" fill="#333"/>
<rect x="90.6" y="475.4" width="1.5" height="1.5" fill="#111"/>
<rect x="92.1" y="474.7" width="1.5" height="1.5" fill="#111"/>
<rect x="92.5" y="471.9" width="1.5" height="1.5" fill="#333"/>
<rect x="94.8" y="469.5" width="1.5" height="1.5" fill="#111"/>
<rect x="96.0" y="465.3" width="1.5" height="1.5" fill="#111"/>
<rect x="96.0" y="464.4" width="1.5" height="1.5" fill="#333"/>
<rect x="97.8" y="460.3" width="1.5" height="1.5" fill="#333"/>
<rect x="98.1" y="457.4" width="1.5" height="1.5" fill="#111"/>
<rect x="98.6" y="455.6" width="1.5" height="1.5" fill="#555"/>
<rect x="99.6" y="452.4" width="1.5" height="1.5" fill="#333"/>
<rect x="100.8" y="451.5" width="1.5" height="1.5" fill="#111"/>
<rect x="103.1" y="448.4" width="1.5" height="1.5" fill="#333"/>
<rect x="105.1" y="446.6" width="1.5" height="1.5" fill="#777"/>
<rect x="106.6" y="442.8" width="1.5" height="1.5" fill="#555"/>
<rect x="107.7" y="440.3" width="1.5" height="1.5" fill="#777"/>
<rect x="110.6" y="438.9" width="1.5" height="1.5" fill="#111"/>
<rect x="113.5" y="439.6" width="1.5" height="1.5" fill="#333"/>
<rect x="116.0" y="438.5" width="1.5" height="1.5" fill="#333"/>
<rect x="118.4" y="439.8" width="1.5" height="1.5" fill="#555"/>
<rect x="120.2" y="442.4" width="1.5" height="1.5" fill="#111"/>
<rect x="121.1" y="445.2" width="1.5" height="1.5" fill="#555"/>
<rect x="122.3" y="446.5" width="1.5" height="1.5" fill="#555"/>
<rect x="123.6" y="450.0" width="1.5" height="1.5" fill="#777"/>
<rect x="124.0" y="451.7" width="1.5" height="1.5" fill="#333"/>
<rect x="125.2" y="456.3" width="1.5" height="1.5" fill="#777"/>
<rect x="126.2" y="457.9" width="1.5" height="1.5" fill="#333"/>
<rect x="127.2" y="459.4" width="1.5" height="1.5" fill="#333"/>
<rect x="129.6" y="463.6" width="1.5" height="1.5" fill="#111"/>
<rect x="130.8" y="466.1" width="1.5" height="1.5" fill="#333"/>
<rect x="131.4" y="467.1" width="1.5" height="1.5" fill="#333"/>
<rect x="133.2" y="469.4" width="1.5" height="1.5" fill="#777"/>
<rect x="133.9" y="473.7" width="1.5" height="1.5" fill="#333"/>
<rect x="134.2" y="476.4" width="1.5" height="1.5" fill="#111"/>
<rect x="135.9" y="478.2" width="1.5" height="1.5" fill="#111"/>
<rect x="136.4" y="481.3" width="1.5" height="1.5" fill="#111"/>
<rect x="137.9" y="483.8" width="1.5" height="1.5" fill="#333"/>
<rect x="138.8" y="486.9" width="1.5" height="1.5" fill="#777"/>
<rect x="140.0" y="487.8" width="1.5" height="1.5" fill="#777"/>
<rect x="141.0" y="490.2" width="1.5" height="1.5" fill="#777"/>
<rect x="143.4" y="492.4" width="1.5" height="1.5" fill="#555"/>
<rect x="144.0" y="494.9" width="1.5" height="1.5" fill="#333"/>
<rect x="145.5" y="498.0" width="1.5" height="1.5" fill="#111"/>
<rect x="148.0" y="499.6" width="1.5" height="1.5" fill="#777"/>
<rect x="149.7" y="502.3" width="1.5" height="1.5" fill="#555"/>
<rect x="151.8" y="503.6" width="1.5" height="1.5" fill="#333"/>
<rect x="153.8" y="506.1" width="1.5" height="1.5" fill="#777"/>
<rect x="156.3" y="506.1" width="1.5" height="1.5" fill="#111"/>
<rect x="159.3" y="507.2" width="1.5" height="1.5" fill="#333"/>
<rect x="161.8" y="507.9" width="1.5" height="1.5" fill="#777"/>
<rect x="165.1" y="508.7" width="1.5" height="1.5" fill="#777"/>
<rect x="167.0" y="507.1" width="1.5" height="1.5" fill="#777"/>
<rect x="170.1" y="508.7" width="1.5" height="1.5" fill="#111"/>
<rect x="172.5" y="507.1" width="1.5" height="1.5" fill="#555"/>
<rect x="176.2" y="508.0" width="1.5" height="1.5" fill="#111"/>
<rect x="179.0" y="509.0" width="1.5" height="1.5" fill="#333"/>
<rect x="180.9" y="507.2" width="1.5" height="1.5" fill="#111"/>
<rect x="183.9" y="509.5" width="1.5" height="1.5" fill="#777"/>
<rect x="186.8" y="509.3" width="1.5" height="1.5" fill="#333"/>
<rect x="190.1" y="509.3" width="1.5" height="1.5" fill="#333"/>
<rect x="72.2" y="496.9" width="1.5" height="1.5" fill="#777"/>
<rect x="73.9" y="500.5" width="1.5" height="1.5" fill="#777"/>
<rect x="76.1" y="499.9" width="1.5" height="1.5" fill="#777"/>
<rect x="76.5" y="498.3" width="1.5" height="1.5" fill="#555"/>
<rect x="77.5" y="494.9" width="1.5" height="1.5" fill="#555"/>
<rect x="78.0" y="490.9" width="1.5" height="1.5" fill="#555"/>
<rect x="79.2" y="490.3" width="1.5" height="1.5" fill="#777"/>
<rect x="81.9" y="492.5" width="1.5" height="1.5" fill="#555"/>
<rect x="84.4" y="492.5" width="1.5" height="1.5" fill="#999"/>
<rect x="85.8" y="495.5" width="1.5" height="1.5" fill="#777"/>
<rect x="87.4" y="492.5" width="1.5" height="1.5" fill="#555"/>
<rect x="87.9" y="489.7" width="1.5" height="1.5" fill="#777"/>
<rect x="89.4" y="486.6" width="1.5" height="1.5" fill="#777"/>
<rect x="90.6" y="484.5" width="1.5" height="1.5" fill="#777"/>
<rect x="90.7" y="480.6" width="1.5" height="1.5" fill="#555"/>
<rect x="91.5" y="479.6" width="1.5" height="1.5" fill="#555"/>
<rect x="92.9" y="476.6" width="1.5" height="1.5" fill="#777"/>
<rect x="94.5" y="475.2" width="1.5" height="1.5" fill="#999"/>
<rect x="96.1" y="472.5" width="1.5" height="1.5" fill="#999"/>
<rect x="96.3" y="467.9" width="1.5" height="1.5" fill="#555"/>
<rect x="97.8" y="466.8" width="1.5" height="1.5" fill="#777"/>
<rect x="98.9" y="464.8" width="1.5" height="1.5" fill="#555"/>
<rect x="99.8" y="461.4" width="1.5" height="1.5" fill="#555"/>
<rect x="100.1" y="457.3" width="1.5" height="1.5" fill="#777"/>
<rect x="101.3" y="455.9" width="1.5" height="1.5" fill="#999"/>
<rect x="102.1" y="453.4" width="1.5" height="1.5" fill="#999"/>
<rect x="103.4" y="450.5" width="1.5" height="1.5" fill="#777"/>
<rect x="105.1" y="447.4" width="1.5" height="1.5" fill="#555"/>
<rect x="107.5" y="446.2" width="1.5" height="1.5" fill="#555"/>
<rect x="109.0" y="445.0" width="1.5" height="1.5" fill="#777"/>
<rect x="110.6" y="441.4" width="1.5" height="1.5" fill="#555"/>
<rect x="112.5" y="441.2" width="1.5" height="1.5" fill="#777"/>
<rect x="115.7" y="439.9" width="1.5" height="1.5" fill="#999"/>
<rect x="118.9" y="440.5" width="1.5" height="1.5" fill="#555"/>
<rect x="120.6" y="439.6" width="1.5" height="1.5" fill="#555"/>
<rect x="122.6" y="442.8" width="1.5" height="1.5" fill="#555"/>
<rect x="123.4" y="446.6" width="1.5" height="1.5" fill="#555"/>
<rect x="124.3" y="448.3" width="1.5" height="1.5" fill="#555"/>
<rect x="125.5" y="450.0" width="1.5" height="1.5" fill="#999"/>
<rect x="127.0" y="453.7" width="1.5" height="1.5" fill="#777"/>
<rect x="128.1" y="455.3" width="1.5" height="1.5" fill="#777"/>
<rect x="128.1" y="459.0" width="1.5" height="1.5" fill="#999"/>
<rect x="130.5" y="461.5" width="1.5" height="1.5" fill="#555"/>
<rect x="131.8" y="462.9" width="1.5" height="1.5" fill="#777"/>
<rect x="132.7" y="466.0" width="1.5" height="1.5" fill="#555"/>
<rect x="134.0" y="467.2" width="1.5" height="1.5" fill="#555"/>
<rect x="135.4" y="469.9" width="1.5" height="1.5" fill="#999"/>
<rect x="136.6" y="474.5" width="1.5" height="1.5" fill="#777"/>
<rect x="137.2" y="475.6" width="1.5" height="1.5" fill="#999"/>
<rect x="138.1" y="479.2" width="1.5" height="1.5" fill="#999"/>
<rect x="139.3" y="481.0" width="1.5" height="1.5" fill="#555"/>
<rect x="139.4" y="484.0" width="1.5" height="1.5" fill="#555"/>
<rect x="140.8" y="485.9" width="1.5" height="1.5" fill="#999"/>
<rect x="142.0" y="488.2" width="1.5" height="1.5" fill="#777"/>
<rect x="143.5" y="491.1" width="1.5" height="1.5" fill="#999"/>
<rect x="145.1" y="494.7" width="1.5" height="1.5" fill="#999"/>
<rect x="147.5" y="497.2" width="1.5" height="1.5" fill="#999"/>
<rect x="148.6" y="499.1" width="1.5" height="1.5" fill="#999"/>
<rect x="149.7" y="499.4" width="1.5" height="1.5" fill="#999"/>
<rect x="151.8" y="503.6" width="1.5" height="1.5" fill="#555"/>
<rect x="154.0" y="504.8" width="1.5" height="1.5" fill="#999"/>
<rect x="156.9" y="505.4" width="1.5" height="1.5" fill="#555"/>
<rect x="158.4" y="507.7" width="1.5" height="1.5" fill="#555"/>
<rect x="161.4" y="506.9" width="1.5" height="1.5" fill="#555"/>
<rect x="163.8" y="507.2" width="1.5" height="1.5" fill="#999"/>
<rect x="167.3" y="508.9" width="1.5" height="1.5" fill="#999"/>
<rect x="169.4" y="509.4" width="1.5" height="1.5" fill="#777"/>
<rect x="172.4" y="509.6" width="1.5" height="1.5" fill="#999"/>
<rect x="176.0" y="507.5" width="1.5" height="1.5" fill="#999"/>
<rect x="178.9" y="507.6" width="1.5" height="1.5" fill="#555"/>
<rect x="180.8" y="507.4" width="1.5" height="1.5" fill="#999"/>
<rect x="183.5" y="509.3" width="1.5" height="1.5" fill="#999"/>
<rect x="186.5" y="507.9" width="1.5" height="1.5" fill="#555"/>
<rect x="189.9" y="509.4" width="1.5" height="1.5" fill="#777"/>
<rect x="192.1" y="509.0" width="1.5" height="1.5" fill="#555"/>
<path d="M68.00 528.80L281.60 529.20" fill="none" stroke="#0a0a0a" stroke-width="1.6"/>
<path d="M281.60 528.40L281.30 635.60" fill="none" stroke="#2a2a2a" stroke-width="1.35"/>
<path d="M68.00 528.80L67.20 635.10L281.30 635.60" fill="none" stroke="#0a0a0a" stroke-width="2.1" stroke-linejoin="miter"/>
<path d="M63.60 635.10H67.20M63.80 608.52H67.40M64.00 581.95H67.60M64.20 555.38H67.80M64.40 528.80H68.00" stroke="#0a0a0a" stroke-width="1.4"/>
<path d="M67.20 635.10v3.9M83.31 635.14v3.9M92.74 635.16v3.9M99.43 635.18v3.9M104.61 635.19v3.9M108.85 635.20v3.9M112.43 635.21v3.9M115.54 635.21v3.9M118.28 635.22v3.9M120.73 635.23v3.9M136.84 635.26v3.9M146.26 635.28v3.9M152.95 635.30v3.9M158.14 635.31v3.9M162.38 635.32v3.9M165.96 635.33v3.9M169.06 635.34v3.9M171.80 635.34v3.9M174.25 635.35v3.9M190.36 635.39v3.9M199.79 635.41v3.9M206.48 635.43v3.9M211.66 635.44v3.9M215.90 635.45v3.9M219.48 635.46v3.9M222.59 635.46v3.9M225.33 635.47v3.9M227.78 635.48v3.9M243.89 635.51v3.9M253.31 635.53v3.9M260.00 635.55v3.9M265.19 635.56v3.9M269.43 635.57v3.9M273.01 635.58v3.9M276.11 635.59v3.9M278.85 635.59v3.9M281.30 635.60v3.9" stroke="#0a0a0a" stroke-width="1.25"/>
<text x="67.8" y="646.4" style="font-family:'Liberation Mono',monospace" font-size="8.6" font-weight="bold" fill="#0a0a0a" stroke="#0a0a0a" stroke-width="0.45" text-anchor="middle">.1</text>
<text x="125.5" y="646.5" style="font-family:'Liberation Mono',monospace" font-size="8.6" font-weight="bold" fill="#0a0a0a" stroke="#0a0a0a" stroke-width="0.45" text-anchor="end">1</text>
<text x="179.1" y="646.6" style="font-family:'Liberation Mono',monospace" font-size="8.6" font-weight="bold" fill="#0a0a0a" stroke="#0a0a0a" stroke-width="0.45" text-anchor="end">10</text>
<text x="232.6" y="646.8" style="font-family:'Liberation Mono',monospace" font-size="8.6" font-weight="bold" fill="#0a0a0a" stroke="#0a0a0a" stroke-width="0.45" text-anchor="end">100</text>
<text x="281.6" y="646.9" style="font-family:'Liberation Mono',monospace" font-size="8.6" font-weight="bold" fill="#0a0a0a" stroke="#0a0a0a" stroke-width="0.45" text-anchor="end">1000</text>
<text transform="translate(61.8,529.8) rotate(-90)" font-size="10" fill="#0a0a0a" stroke="#0a0a0a" stroke-width="0.25" text-anchor="end">35</text>
<text transform="translate(61.2,635.1) rotate(-90)" font-size="10" font-weight="bold" fill="#0a0a0a" stroke="#0a0a0a" stroke-width="0.5" text-anchor="middle">0</text>
<text x="227.7" y="547.0" font-size="13.3" fill="#0a0a0a" stroke="#0a0a0a" stroke-width="0.35" textLength="24.6" lengthAdjust="spacingAndGlyphs">P815</text>
<path d="M68.4 562.5 L68.6 580.0 L68.8 596.0 L69.6 583.8 L70.9 581.2 L72.1 586.2 L73.4 588.8 L74.6 585.0 L75.9 576.2 L77.1 580.0 L78.4 575.0 L80.2 568.8 L82.1 572.5 L83.4 568.8 L84.6 573.8 L85.9 581.2 L87.1 572.5 L88.4 576.2 L89.6 576.9 L90.9 585.0 L91.5 588.8 L92.1 576.2 L93.0 568.8 L94.0 576.9 L95.2 581.9 L97.1 588.8 L98.4 595.0 L100.2 598.8 L101.5 602.5 L103.4 605.0 L105.2 610.0 L107.1 613.8 L109.0 618.8 L110.9 623.1 L112.8 620.0 L114.6 622.5 L116.5 626.2 L119.0 627.5 L121.5 628.8 L124.0 630.0 L127.8 631.9 L131.0 633.0" fill="none" stroke="#0a0a0a" stroke-width="1.6" stroke-linejoin="round"/>
<rect x="108.1" y="631.0" width="1.5" height="1.5" fill="#111"/>
<rect x="111.3" y="629.2" width="1.5" height="1.5" fill="#555"/>
<rect x="114.1" y="629.3" width="1.5" height="1.5" fill="#777"/>
<rect x="116.9" y="628.8" width="1.5" height="1.5" fill="#111"/>
<rect x="119.5" y="626.5" width="1.5" height="1.5" fill="#111"/>
<rect x="121.6" y="627.2" width="1.5" height="1.5" fill="#333"/>
<rect x="124.5" y="626.3" width="1.5" height="1.5" fill="#555"/>
<rect x="126.1" y="622.6" width="1.5" height="1.5" fill="#333"/>
<rect x="128.5" y="622.7" width="1.5" height="1.5" fill="#111"/>
<rect x="130.4" y="620.4" width="1.5" height="1.5" fill="#777"/>
<rect x="133.5" y="619.5" width="1.5" height="1.5" fill="#777"/>
<rect x="134.8" y="617.5" width="1.5" height="1.5" fill="#555"/>
<rect x="136.2" y="613.1" width="1.5" height="1.5" fill="#333"/>
<rect x="137.9" y="610.8" width="1.5" height="1.5" fill="#333"/>
<rect x="138.0" y="609.2" width="1.5" height="1.5" fill="#111"/>
<rect x="139.5" y="607.5" width="1.5" height="1.5" fill="#111"/>
<rect x="141.1" y="603.5" width="1.5" height="1.5" fill="#777"/>
<rect x="142.9" y="602.4" width="1.5" height="1.5" fill="#111"/>
<rect x="143.6" y="599.4" width="1.5" height="1.5" fill="#555"/>
<rect x="144.6" y="596.0" width="1.5" height="1.5" fill="#333"/>
<rect x="146.0" y="594.9" width="1.5" height="1.5" fill="#333"/>
<rect x="147.7" y="590.5" width="1.5" height="1.5" fill="#111"/>
<rect x="148.1" y="588.4" width="1.5" height="1.5" fill="#333"/>
<rect x="149.7" y="586.1" width="1.5" height="1.5" fill="#555"/>
<rect x="149.9" y="583.4" width="1.5" height="1.5" fill="#555"/>
<rect x="151.4" y="580.1" width="1.5" height="1.5" fill="#777"/>
<rect x="152.6" y="578.9" width="1.5" height="1.5" fill="#333"/>
<rect x="153.2" y="576.4" width="1.5" height="1.5" fill="#333"/>
<rect x="154.7" y="574.3" width="1.5" height="1.5" fill="#555"/>
<rect x="155.6" y="570.2" width="1.5" height="1.5" fill="#333"/>
<rect x="156.3" y="567.2" width="1.5" height="1.5" fill="#111"/>
<rect x="157.2" y="565.8" width="1.5" height="1.5" fill="#333"/>
<rect x="158.7" y="564.1" width="1.5" height="1.5" fill="#555"/>
<rect x="160.7" y="560.4" width="1.5" height="1.5" fill="#333"/>
<rect x="162.1" y="559.8" width="1.5" height="1.5" fill="#555"/>
<rect x="164.5" y="557.1" width="1.5" height="1.5" fill="#111"/>
<rect x="167.0" y="557.3" width="1.5" height="1.5" fill="#777"/>
<rect x="170.2" y="557.4" width="1.5" height="1.5" fill="#555"/>
<rect x="172.1" y="558.2" width="1.5" height="1.5" fill="#777"/>
<rect x="172.8" y="561.0" width="1.5" height="1.5" fill="#777"/>
<rect x="174.9" y="564.3" width="1.5" height="1.5" fill="#777"/>
<rect x="176.1" y="567.1" width="1.5" height="1.5" fill="#333"/>
<rect x="176.9" y="569.6" width="1.5" height="1.5" fill="#777"/>
<rect x="177.7" y="571.3" width="1.5" height="1.5" fill="#111"/>
<rect x="179.3" y="573.9" width="1.5" height="1.5" fill="#777"/>
<rect x="180.1" y="577.4" width="1.5" height="1.5" fill="#555"/>
<rect x="181.1" y="579.7" width="1.5" height="1.5" fill="#111"/>
<rect x="181.8" y="582.2" width="1.5" height="1.5" fill="#333"/>
<rect x="183.0" y="584.6" width="1.5" height="1.5" fill="#111"/>
<rect x="183.5" y="587.6" width="1.5" height="1.5" fill="#111"/>
<rect x="184.4" y="590.2" width="1.5" height="1.5" fill="#333"/>
<rect x="186.4" y="593.7" width="1.5" height="1.5" fill="#333"/>
<rect x="187.3" y="594.2" width="1.5" height="1.5" fill="#777"/>
<rect x="188.2" y="598.4" width="1.5" height="1.5" fill="#111"/>
<rect x="189.2" y="601.3" width="1.5" height="1.5" fill="#555"/>
<rect x="189.8" y="604.2" width="1.5" height="1.5" fill="#333"/>
<rect x="191.4" y="605.1" width="1.5" height="1.5" fill="#111"/>
<rect x="191.9" y="608.8" width="1.5" height="1.5" fill="#111"/>
<rect x="192.4" y="610.8" width="1.5" height="1.5" fill="#111"/>
<rect x="193.1" y="613.5" width="1.5" height="1.5" fill="#777"/>
<rect x="195.0" y="616.7" width="1.5" height="1.5" fill="#555"/>
<rect x="195.7" y="618.3" width="1.5" height="1.5" fill="#777"/>
<rect x="197.9" y="621.3" width="1.5" height="1.5" fill="#333"/>
<rect x="199.6" y="624.6" width="1.5" height="1.5" fill="#777"/>
<rect x="200.6" y="624.6" width="1.5" height="1.5" fill="#111"/>
<rect x="203.6" y="627.4" width="1.5" height="1.5" fill="#777"/>
<rect x="205.8" y="629.1" width="1.5" height="1.5" fill="#333"/>
<rect x="208.0" y="629.7" width="1.5" height="1.5" fill="#777"/>
<rect x="211.0" y="629.2" width="1.5" height="1.5" fill="#333"/>
<rect x="214.1" y="629.9" width="1.5" height="1.5" fill="#333"/>
<rect x="216.3" y="629.9" width="1.5" height="1.5" fill="#555"/>
<rect x="219.9" y="630.8" width="1.5" height="1.5" fill="#777"/>
<rect x="221.6" y="631.1" width="1.5" height="1.5" fill="#555"/>
<rect x="224.8" y="631.1" width="1.5" height="1.5" fill="#555"/>
<rect x="227.7" y="630.6" width="1.5" height="1.5" fill="#111"/>
<rect x="230.7" y="630.4" width="1.5" height="1.5" fill="#555"/>
<rect x="233.8" y="629.7" width="1.5" height="1.5" fill="#555"/>
<rect x="236.5" y="629.9" width="1.5" height="1.5" fill="#555"/>
<rect x="239.1" y="629.6" width="1.5" height="1.5" fill="#111"/>
<rect x="241.4" y="629.7" width="1.5" height="1.5" fill="#555"/>
<rect x="244.2" y="629.8" width="1.5" height="1.5" fill="#333"/>
<rect x="247.8" y="630.0" width="1.5" height="1.5" fill="#777"/>
<rect x="250.0" y="629.8" width="1.5" height="1.5" fill="#777"/>
<rect x="253.3" y="629.7" width="1.5" height="1.5" fill="#111"/>
<rect x="255.9" y="631.2" width="1.5" height="1.5" fill="#555"/>
<rect x="258.2" y="630.5" width="1.5" height="1.5" fill="#111"/>
<rect x="261.6" y="630.1" width="1.5" height="1.5" fill="#111"/>
<rect x="264.2" y="630.0" width="1.5" height="1.5" fill="#333"/>
<rect x="267.3" y="630.9" width="1.5" height="1.5" fill="#111"/>
<rect x="110.7" y="631.5" width="1.5" height="1.5" fill="#999"/>
<rect x="113.5" y="630.0" width="1.5" height="1.5" fill="#999"/>
<rect x="116.4" y="630.1" width="1.5" height="1.5" fill="#555"/>
<rect x="119.4" y="628.9" width="1.5" height="1.5" fill="#999"/>
<rect x="121.7" y="627.6" width="1.5" height="1.5" fill="#777"/>
<rect x="124.2" y="627.0" width="1.5" height="1.5" fill="#999"/>
<rect x="126.3" y="626.3" width="1.5" height="1.5" fill="#999"/>
<rect x="129.2" y="623.1" width="1.5" height="1.5" fill="#555"/>
<rect x="131.5" y="623.7" width="1.5" height="1.5" fill="#777"/>
<rect x="133.9" y="620.0" width="1.5" height="1.5" fill="#777"/>
<rect x="135.7" y="620.2" width="1.5" height="1.5" fill="#555"/>
<rect x="136.8" y="616.7" width="1.5" height="1.5" fill="#555"/>
<rect x="138.4" y="615.3" width="1.5" height="1.5" fill="#777"/>
<rect x="139.7" y="612.6" width="1.5" height="1.5" fill="#999"/>
<rect x="141.3" y="608.7" width="1.5" height="1.5" fill="#777"/>
<rect x="141.8" y="606.2" width="1.5" height="1.5" fill="#555"/>
<rect x="143.8" y="603.9" width="1.5" height="1.5" fill="#777"/>
<rect x="144.8" y="602.0" width="1.5" height="1.5" fill="#777"/>
<rect x="146.7" y="599.2" width="1.5" height="1.5" fill="#555"/>
<rect x="147.7" y="597.7" width="1.5" height="1.5" fill="#777"/>
<rect x="148.3" y="595.0" width="1.5" height="1.5" fill="#555"/>
<rect x="149.8" y="592.2" width="1.5" height="1.5" fill="#555"/>
<rect x="150.6" y="589.4" width="1.5" height="1.5" fill="#777"/>
<rect x="151.8" y="585.6" width="1.5" height="1.5" fill="#777"/>
<rect x="152.3" y="583.0" width="1.5" height="1.5" fill="#777"/>
<rect x="154.0" y="581.9" width="1.5" height="1.5" fill="#999"/>
<rect x="155.4" y="579.2" width="1.5" height="1.5" fill="#999"/>
<rect x="155.5" y="576.7" width="1.5" height="1.5" fill="#999"/>
<rect x="157.1" y="574.1" width="1.5" height="1.5" fill="#555"/>
<rect x="157.5" y="571.4" width="1.5" height="1.5" fill="#999"/>
<rect x="159.4" y="567.5" width="1.5" height="1.5" fill="#555"/>
<rect x="160.5" y="565.7" width="1.5" height="1.5" fill="#555"/>
<rect x="161.8" y="563.8" width="1.5" height="1.5" fill="#777"/>
<rect x="163.3" y="560.2" width="1.5" height="1.5" fill="#777"/>
<rect x="165.1" y="558.7" width="1.5" height="1.5" fill="#777"/>
<rect x="167.0" y="556.7" width="1.5" height="1.5" fill="#555"/>
<rect x="170.0" y="557.3" width="1.5" height="1.5" fill="#555"/>
<rect x="172.5" y="558.0" width="1.5" height="1.5" fill="#555"/>
<rect x="175.0" y="559.4" width="1.5" height="1.5" fill="#999"/>
<rect x="176.4" y="561.9" width="1.5" height="1.5" fill="#555"/>
<rect x="177.4" y="564.8" width="1.5" height="1.5" fill="#999"/>
<rect x="178.8" y="567.1" width="1.5" height="1.5" fill="#777"/>
<rect x="179.3" y="568.8" width="1.5" height="1.5" fill="#777"/>
<rect x="179.9" y="571.6" width="1.5" height="1.5" fill="#555"/>
<rect x="181.2" y="573.8" width="1.5" height="1.5" fill="#999"/>
<rect x="181.8" y="578.7" width="1.5" height="1.5" fill="#555"/>
<rect x="182.9" y="579.3" width="1.5" height="1.5" fill="#777"/>
<rect x="183.6" y="583.4" width="1.5" height="1.5" fill="#555"/>
<rect x="185.0" y="586.1" width="1.5" height="1.5" fill="#555"/>
<rect x="186.0" y="588.7" width="1.5" height="1.5" fill="#999"/>
<rect x="187.9" y="591.2" width="1.5" height="1.5" fill="#555"/>
<rect x="188.4" y="593.3" width="1.5" height="1.5" fill="#777"/>
<rect x="189.7" y="596.7" width="1.5" height="1.5" fill="#777"/>
<rect x="191.1" y="597.3" width="1.5" height="1.5" fill="#555"/>
<rect x="190.9" y="599.8" width="1.5" height="1.5" fill="#999"/>
<rect x="192.6" y="604.0" width="1.5" height="1.5" fill="#777"/>
<rect x="193.0" y="606.9" width="1.5" height="1.5" fill="#555"/>
<rect x="194.7" y="609.8" width="1.5" height="1.5" fill="#999"/>
<rect x="194.7" y="611.3" width="1.5" height="1.5" fill="#999"/>
<rect x="196.5" y="614.1" width="1.5" height="1.5" fill="#555"/>
<rect x="196.9" y="617.5" width="1.5" height="1.5" fill="#777"/>
<rect x="199.2" y="618.4" width="1.5" height="1.5" fill="#777"/>
<rect x="199.8" y="622.4" width="1.5" height="1.5" fill="#777"/>
<rect x="202.0" y="624.7" width="1.5" height="1.5" fill="#999"/>
<rect x="203.3" y="625.4" width="1.5" height="1.5" fill="#999"/>
<rect x="206.3" y="628.1" width="1.5" height="1.5" fill="#999"/>
<rect x="207.9" y="629.3" width="1.5" height="1.5" fill="#555"/>
<rect x="211.1" y="630.1" width="1.5" height="1.5" fill="#777"/>
<rect x="213.6" y="631.3" width="1.5" height="1.5" fill="#555"/>
<rect x="216.1" y="630.9" width="1.5" height="1.5" fill="#999"/>
<rect x="219.4" y="630.0" width="1.5" height="1.5" fill="#777"/>
<rect x="221.6" y="629.7" width="1.5" height="1.5" fill="#777"/>
<rect x="224.4" y="630.3" width="1.5" height="1.5" fill="#555"/>
<rect x="227.2" y="630.4" width="1.5" height="1.5" fill="#999"/>
<rect x="229.8" y="632.4" width="1.5" height="1.5" fill="#999"/>
<rect x="233.3" y="632.2" width="1.5" height="1.5" fill="#777"/>
<rect x="235.9" y="631.3" width="1.5" height="1.5" fill="#777"/>
<rect x="239.0" y="630.5" width="1.5" height="1.5" fill="#999"/>
<rect x="242.0" y="630.6" width="1.5" height="1.5" fill="#999"/>
<rect x="243.7" y="631.0" width="1.5" height="1.5" fill="#999"/>
<rect x="246.7" y="630.7" width="1.5" height="1.5" fill="#555"/>
<rect x="250.2" y="631.2" width="1.5" height="1.5" fill="#555"/>
<rect x="252.7" y="630.8" width="1.5" height="1.5" fill="#555"/>
<rect x="255.1" y="631.2" width="1.5" height="1.5" fill="#777"/>
<rect x="258.7" y="630.8" width="1.5" height="1.5" fill="#777"/>
<rect x="261.0" y="629.8" width="1.5" height="1.5" fill="#555"/>
<rect x="263.4" y="630.0" width="1.5" height="1.5" fill="#999"/>
<rect x="266.3" y="631.3" width="1.5" height="1.5" fill="#777"/>
<rect x="269.2" y="631.5" width="1.5" height="1.5" fill="#555"/>
<path d="M306.60 33.40L517.40 34.40" fill="none" stroke="#0a0a0a" stroke-width="1.6"/>
<path d="M517.40 33.60L517.20 137.00" fill="none" stroke="#2a2a2a" stroke-width="1.35"/>
<path d="M306.60 33.40L306.10 137.20L517.20 137.00" fill="none" stroke="#0a0a0a" stroke-width="2.1" stroke-linejoin="miter"/>
<path d="M302.50 137.20H306.10M302.62 111.25H306.23M302.75 85.30H306.35M302.88 59.35H306.48M303.00 33.40H306.60" stroke="#0a0a0a" stroke-width="1.4"/>
<path d="M306.10 137.20v3.9M321.99 137.18v3.9M331.28 137.18v3.9M337.87 137.17v3.9M342.99 137.17v3.9M347.17 137.16v3.9M350.70 137.16v3.9M353.76 137.15v3.9M356.46 137.15v3.9M358.88 137.15v3.9M374.76 137.13v3.9M384.06 137.13v3.9M390.65 137.12v3.9M395.76 137.12v3.9M399.94 137.11v3.9M403.48 137.11v3.9M406.54 137.10v3.9M409.24 137.10v3.9M411.65 137.10v3.9M427.54 137.08v3.9M436.83 137.08v3.9M443.42 137.07v3.9M448.54 137.07v3.9M452.72 137.06v3.9M456.25 137.06v3.9M459.31 137.05v3.9M462.01 137.05v3.9M464.43 137.05v3.9M480.31 137.03v3.9M489.61 137.03v3.9M496.20 137.02v3.9M501.31 137.02v3.9M505.49 137.01v3.9M509.03 137.01v3.9M512.09 137.00v3.9M514.79 137.00v3.9M517.20 137.00v3.9" stroke="#0a0a0a" stroke-width="1.25"/>
<text x="306.7" y="148.5" style="font-family:'Liberation Mono',monospace" font-size="8.6" font-weight="bold" fill="#0a0a0a" stroke="#0a0a0a" stroke-width="0.45" text-anchor="middle">.1</text>
<text x="363.7" y="148.4" style="font-family:'Liberation Mono',monospace" font-size="8.6" font-weight="bold" fill="#0a0a0a" stroke="#0a0a0a" stroke-width="0.45" text-anchor="end">1</text>
<text x="416.5" y="148.4" style="font-family:'Liberation Mono',monospace" font-size="8.6" font-weight="bold" fill="#0a0a0a" stroke="#0a0a0a" stroke-width="0.45" text-anchor="end">10</text>
<text x="469.2" y="148.4" style="font-family:'Liberation Mono',monospace" font-size="8.6" font-weight="bold" fill="#0a0a0a" stroke="#0a0a0a" stroke-width="0.45" text-anchor="end">100</text>
<text x="517.5" y="148.3" style="font-family:'Liberation Mono',monospace" font-size="8.6" font-weight="bold" fill="#0a0a0a" stroke="#0a0a0a" stroke-width="0.45" text-anchor="end">1000</text>
<text transform="translate(300.4,34.4) rotate(-90)" font-size="9.6" font-weight="bold" fill="#0a0a0a" stroke="#0a0a0a" stroke-width="0.9" text-anchor="end">30</text>
<text transform="translate(300.1,137.2) rotate(-90)" font-size="10" font-weight="bold" fill="#0a0a0a" stroke="#0a0a0a" stroke-width="0.5" text-anchor="middle">0</text>
<text x="413.5" y="58.3" style="font-family:'Liberation Sans',sans-serif" font-size="12.6" fill="#0a0a0a" stroke="#0a0a0a" stroke-width="0.25" textLength="66.3" lengthAdjust="spacingAndGlyphs">Splenic Cells</text>
<path d="M306.5 123.0 L307.4 120.0 L309.2 116.2 L310.5 111.2 L313.0 106.2 L315.5 101.2 L318.6 97.5 L321.1 94.4 L323.0 88.8 L324.9 86.2 L326.1 81.2 L326.8 74.4 L328.0 77.5 L329.9 82.5 L331.1 78.8 L332.4 75.0 L334.2 76.9 L335.5 80.0 L336.8 85.0 L338.0 89.4 L340.5 92.5 L341.8 97.5 L343.0 102.5 L344.9 107.5 L346.8 112.5 L348.6 117.5 L350.5 122.5 L353.0 126.2 L356.8 129.4 L360.5 131.9 L365.5 134.4 L370.5 135.2 L376.0 136.0" fill="none" stroke="#0a0a0a" stroke-width="2.2" stroke-linejoin="round"/>
<rect x="332.0" y="76.9" width="1.5" height="1.5" fill="#777"/>
<rect x="332.9" y="72.9" width="1.5" height="1.5" fill="#777"/>
<rect x="334.0" y="70.3" width="1.5" height="1.5" fill="#111"/>
<rect x="334.5" y="68.2" width="1.5" height="1.5" fill="#111"/>
<rect x="335.0" y="66.5" width="1.5" height="1.5" fill="#777"/>
<rect x="335.8" y="69.3" width="1.5" height="1.5" fill="#555"/>
<rect x="336.0" y="73.3" width="1.5" height="1.5" fill="#333"/>
<rect x="336.1" y="74.6" width="1.5" height="1.5" fill="#333"/>
<rect x="336.9" y="77.9" width="1.5" height="1.5" fill="#111"/>
<rect x="336.4" y="81.0" width="1.5" height="1.5" fill="#777"/>
<path d="M306.80 160.90L516.80 160.70" fill="none" stroke="#0a0a0a" stroke-width="1.6"/>
<path d="M516.80 159.90L515.80 267.50" fill="none" stroke="#2a2a2a" stroke-width="1.35"/>
<path d="M306.80 160.90L305.20 267.00L515.80 267.50" fill="none" stroke="#0a0a0a" stroke-width="2.1" stroke-linejoin="miter"/>
<path d="M301.60 267.00H305.20M302.00 240.47H305.60M302.40 213.95H306.00M302.80 187.43H306.40M303.20 160.90H306.80" stroke="#0a0a0a" stroke-width="1.4"/>
<path d="M305.20 267.00v3.9M321.05 267.04v3.9M330.32 267.06v3.9M336.90 267.08v3.9M342.00 267.09v3.9M346.17 267.10v3.9M349.69 267.11v3.9M352.75 267.11v3.9M355.44 267.12v3.9M357.85 267.12v3.9M373.70 267.16v3.9M382.97 267.18v3.9M389.55 267.20v3.9M394.65 267.21v3.9M398.82 267.22v3.9M402.34 267.23v3.9M405.40 267.24v3.9M408.09 267.24v3.9M410.50 267.25v3.9M426.35 267.29v3.9M435.62 267.31v3.9M442.20 267.33v3.9M447.30 267.34v3.9M451.47 267.35v3.9M454.99 267.36v3.9M458.05 267.36v3.9M460.74 267.37v3.9M463.15 267.38v3.9M479.00 267.41v3.9M488.27 267.43v3.9M494.85 267.45v3.9M499.95 267.46v3.9M504.12 267.47v3.9M507.64 267.48v3.9M510.70 267.49v3.9M513.39 267.49v3.9M515.80 267.50v3.9" stroke="#0a0a0a" stroke-width="1.25"/>
<text x="305.8" y="278.3" style="font-family:'Liberation Mono',monospace" font-size="8.6" font-weight="bold" fill="#0a0a0a" stroke="#0a0a0a" stroke-width="0.45" text-anchor="middle">.1</text>
<text x="362.6" y="278.4" style="font-family:'Liberation Mono',monospace" font-size="8.6" font-weight="bold" fill="#0a0a0a" stroke="#0a0a0a" stroke-width="0.45" text-anchor="end">1</text>
<text x="415.3" y="278.6" style="font-family:'Liberation Mono',monospace" font-size="8.6" font-weight="bold" fill="#0a0a0a" stroke="#0a0a0a" stroke-width="0.45" text-anchor="end">10</text>
<text x="467.9" y="278.7" style="font-family:'Liberation Mono',monospace" font-size="8.6" font-weight="bold" fill="#0a0a0a" stroke="#0a0a0a" stroke-width="0.45" text-anchor="end">100</text>
<text x="516.1" y="278.8" style="font-family:'Liberation Mono',monospace" font-size="8.6" font-weight="bold" fill="#0a0a0a" stroke="#0a0a0a" stroke-width="0.45" text-anchor="end">1000</text>
<text transform="translate(300.6,161.9) rotate(-90)" font-size="9.6" font-weight="bold" fill="#0a0a0a" stroke="#0a0a0a" stroke-width="0.9" text-anchor="end">33</text>
<text transform="translate(299.2,267.0) rotate(-90)" font-size="10" font-weight="bold" fill="#0a0a0a" stroke="#0a0a0a" stroke-width="0.5" text-anchor="middle">0</text>
<text x="450.8" y="175.9" font-size="13.3" fill="#0a0a0a" stroke="#0a0a0a" stroke-width="0.35" textLength="21.5" lengthAdjust="spacingAndGlyphs">LSA</text>
<path d="M306.4 232.5 L307.4 235.0 L308.6 237.5 L310.5 236.2 L312.4 237.5 L313.6 233.8 L315.5 235.6 L317.4 238.8 L318.6 242.5 L320.5 247.5 L321.8 245.0 L323.6 248.8 L325.5 246.2 L327.4 248.8 L329.2 246.9 L331.1 248.8 L333.0 250.6 L335.5 251.2 L338.0 251.2 L339.9 253.8 L341.8 256.2 L344.2 258.8 L347.4 260.6 L350.5 262.5 L355.5 264.4 L359.0 265.2" fill="none" stroke="#0a0a0a" stroke-width="2.3" stroke-linejoin="round"/>
<rect x="307.2" y="241.9" width="1.5" height="1.5" fill="#111"/>
<rect x="308.8" y="239.0" width="1.5" height="1.5" fill="#111"/>
<rect x="309.9" y="235.5" width="1.5" height="1.5" fill="#555"/>
<rect x="311.0" y="234.0" width="1.5" height="1.5" fill="#777"/>
<rect x="311.8" y="231.8" width="1.5" height="1.5" fill="#555"/>
<rect x="313.6" y="229.5" width="1.5" height="1.5" fill="#333"/>
<rect x="314.2" y="226.9" width="1.5" height="1.5" fill="#555"/>
<rect x="315.5" y="223.8" width="1.5" height="1.5" fill="#111"/>
<rect x="317.7" y="220.5" width="1.5" height="1.5" fill="#777"/>
<rect x="318.1" y="218.1" width="1.5" height="1.5" fill="#111"/>
<rect x="319.4" y="216.3" width="1.5" height="1.5" fill="#555"/>
<rect x="319.6" y="213.1" width="1.5" height="1.5" fill="#111"/>
<rect x="320.3" y="212.7" width="1.5" height="1.5" fill="#777"/>
<rect x="321.3" y="215.4" width="1.5" height="1.5" fill="#333"/>
<rect x="323.2" y="218.2" width="1.5" height="1.5" fill="#111"/>
<rect x="325.4" y="220.1" width="1.5" height="1.5" fill="#111"/>
<rect x="326.1" y="222.6" width="1.5" height="1.5" fill="#111"/>
<rect x="327.7" y="224.5" width="1.5" height="1.5" fill="#333"/>
<rect x="328.3" y="222.0" width="1.5" height="1.5" fill="#777"/>
<rect x="329.1" y="218.7" width="1.5" height="1.5" fill="#777"/>
<rect x="330.0" y="218.6" width="1.5" height="1.5" fill="#333"/>
<rect x="330.2" y="221.9" width="1.5" height="1.5" fill="#333"/>
<rect x="330.8" y="224.8" width="1.5" height="1.5" fill="#333"/>
<rect x="331.8" y="227.2" width="1.5" height="1.5" fill="#333"/>
<rect x="332.4" y="229.1" width="1.5" height="1.5" fill="#777"/>
<rect x="333.4" y="231.7" width="1.5" height="1.5" fill="#555"/>
<rect x="334.6" y="234.6" width="1.5" height="1.5" fill="#333"/>
<rect x="335.5" y="236.8" width="1.5" height="1.5" fill="#777"/>
<rect x="337.9" y="238.9" width="1.5" height="1.5" fill="#111"/>
<rect x="339.4" y="242.2" width="1.5" height="1.5" fill="#333"/>
<rect x="340.9" y="244.7" width="1.5" height="1.5" fill="#111"/>
<rect x="342.6" y="245.5" width="1.5" height="1.5" fill="#555"/>
<rect x="344.7" y="247.6" width="1.5" height="1.5" fill="#333"/>
<rect x="347.2" y="249.3" width="1.5" height="1.5" fill="#555"/>
<rect x="348.7" y="251.4" width="1.5" height="1.5" fill="#555"/>
<rect x="350.2" y="254.4" width="1.5" height="1.5" fill="#777"/>
<rect x="352.8" y="255.9" width="1.5" height="1.5" fill="#333"/>
<rect x="354.6" y="258.4" width="1.5" height="1.5" fill="#555"/>
<rect x="356.7" y="259.4" width="1.5" height="1.5" fill="#777"/>
<rect x="359.1" y="261.1" width="1.5" height="1.5" fill="#333"/>
<rect x="362.2" y="262.2" width="1.5" height="1.5" fill="#333"/>
<rect x="364.7" y="262.6" width="1.5" height="1.5" fill="#111"/>
<rect x="367.5" y="264.5" width="1.5" height="1.5" fill="#777"/>
<rect x="370.2" y="263.5" width="1.5" height="1.5" fill="#333"/>
<rect x="372.9" y="264.8" width="1.5" height="1.5" fill="#333"/>
<rect x="375.6" y="264.1" width="1.5" height="1.5" fill="#111"/>
<path d="M307.2 197.0 L307.0 210.0 L306.9 222.0 L306.8 236.0" fill="none" stroke="#0a0a0a" stroke-width="1.4" stroke-linejoin="round"/>
<path d="M305.20 286.60L516.20 287.30" fill="none" stroke="#0a0a0a" stroke-width="1.6"/>
<path d="M516.20 286.50L516.80 392.90" fill="none" stroke="#2a2a2a" stroke-width="1.35"/>
<path d="M305.20 286.60L305.00 391.90L516.80 392.90" fill="none" stroke="#0a0a0a" stroke-width="2.1" stroke-linejoin="miter"/>
<path d="M301.40 391.90H305.00M301.45 365.57H305.05M301.50 339.25H305.10M301.55 312.93H305.15M301.60 286.60H305.20" stroke="#0a0a0a" stroke-width="1.4"/>
<path d="M305.00 391.90v3.9M320.94 391.98v3.9M330.26 392.02v3.9M336.88 392.05v3.9M342.01 392.07v3.9M346.20 392.09v3.9M349.75 392.11v3.9M352.82 392.13v3.9M355.53 392.14v3.9M357.95 392.15v3.9M373.89 392.23v3.9M383.21 392.27v3.9M389.83 392.30v3.9M394.96 392.32v3.9M399.15 392.34v3.9M402.70 392.36v3.9M405.77 392.38v3.9M408.48 392.39v3.9M410.90 392.40v3.9M426.84 392.48v3.9M436.16 392.52v3.9M442.78 392.55v3.9M447.91 392.57v3.9M452.10 392.59v3.9M455.65 392.61v3.9M458.72 392.63v3.9M461.43 392.64v3.9M463.85 392.65v3.9M479.79 392.73v3.9M489.11 392.77v3.9M495.73 392.80v3.9M500.86 392.82v3.9M505.05 392.84v3.9M508.60 392.86v3.9M511.67 392.88v3.9M514.38 392.89v3.9M516.80 392.90v3.9" stroke="#0a0a0a" stroke-width="1.25"/>
<text x="305.6" y="403.2" style="font-family:'Liberation Mono',monospace" font-size="8.6" font-weight="bold" fill="#0a0a0a" stroke="#0a0a0a" stroke-width="0.45" text-anchor="middle">.1</text>
<text x="362.8" y="403.4" style="font-family:'Liberation Mono',monospace" font-size="8.6" font-weight="bold" fill="#0a0a0a" stroke="#0a0a0a" stroke-width="0.45" text-anchor="end">1</text>
<text x="415.7" y="403.7" style="font-family:'Liberation Mono',monospace" font-size="8.6" font-weight="bold" fill="#0a0a0a" stroke="#0a0a0a" stroke-width="0.45" text-anchor="end">10</text>
<text x="468.6" y="403.9" style="font-family:'Liberation Mono',monospace" font-size="8.6" font-weight="bold" fill="#0a0a0a" stroke="#0a0a0a" stroke-width="0.45" text-anchor="end">100</text>
<text x="517.1" y="404.2" style="font-family:'Liberation Mono',monospace" font-size="8.6" font-weight="bold" fill="#0a0a0a" stroke="#0a0a0a" stroke-width="0.45" text-anchor="end">1000</text>
<text transform="translate(299.0,287.6) rotate(-90)" font-size="9.6" font-weight="bold" fill="#0a0a0a" stroke="#0a0a0a" stroke-width="0.9" text-anchor="end">32</text>
<text transform="translate(299.0,391.9) rotate(-90)" font-size="10" font-weight="bold" fill="#0a0a0a" stroke="#0a0a0a" stroke-width="0.5" text-anchor="middle">0</text>
<text x="448.5" y="302.1" font-size="13.3" fill="#0a0a0a" stroke="#0a0a0a" stroke-width="0.35" textLength="30.7" lengthAdjust="spacingAndGlyphs">PE-3T</text>
<path d="M306.1 331.7 L306.5 360.0 L306.8 373.1 L308.2 364.9 L309.6 358.0 L311.0 356.6 L313.0 355.2 L315.1 352.4 L316.5 346.9 L317.9 341.4 L319.3 337.3 L320.6 334.5 L322.0 330.4 L323.4 323.5 L324.8 319.3 L326.2 316.6 L326.8 308.3 L328.2 313.8 L329.6 320.7 L331.0 315.2 L331.7 323.5 L333.1 329.0 L334.4 335.9 L335.8 341.4 L337.2 346.9 L338.2 358.0 L339.3 360.7 L340.6 366.2 L342.0 373.1 L344.1 378.7 L346.9 382.8 L350.3 386.3 L354.4 388.3 L360.0 389.2 L367.0 389.6 L375.0 389.2 L385.0 389.6 L395.0 389.0 L405.0 389.5 L415.0 389.8" fill="none" stroke="#0a0a0a" stroke-width="2.4" stroke-linejoin="round"/>
<rect x="309.7" y="389.7" width="1.5" height="1.5" fill="#000"/>
<rect x="312.2" y="388.6" width="1.5" height="1.5" fill="#333"/>
<rect x="315.2" y="388.7" width="1.5" height="1.5" fill="#555"/>
<rect x="317.3" y="387.2" width="1.5" height="1.5" fill="#555"/>
<rect x="320.1" y="387.3" width="1.5" height="1.5" fill="#222"/>
<rect x="322.5" y="386.5" width="1.5" height="1.5" fill="#333"/>
<rect x="324.1" y="384.1" width="1.5" height="1.5" fill="#000"/>
<rect x="325.6" y="382.0" width="1.5" height="1.5" fill="#000"/>
<rect x="326.4" y="379.0" width="1.5" height="1.5" fill="#333"/>
<rect x="328.1" y="376.7" width="1.5" height="1.5" fill="#000"/>
<rect x="328.8" y="372.8" width="1.5" height="1.5" fill="#555"/>
<rect x="329.9" y="370.0" width="1.5" height="1.5" fill="#222"/>
<rect x="330.5" y="369.1" width="1.5" height="1.5" fill="#222"/>
<rect x="332.0" y="365.0" width="1.5" height="1.5" fill="#333"/>
<rect x="332.6" y="363.5" width="1.5" height="1.5" fill="#000"/>
<rect x="333.4" y="361.1" width="1.5" height="1.5" fill="#222"/>
<rect x="334.7" y="358.3" width="1.5" height="1.5" fill="#555"/>
<rect x="335.9" y="355.5" width="1.5" height="1.5" fill="#000"/>
<rect x="336.7" y="351.8" width="1.5" height="1.5" fill="#222"/>
<rect x="337.2" y="349.1" width="1.5" height="1.5" fill="#555"/>
<rect x="338.4" y="347.6" width="1.5" height="1.5" fill="#000"/>
<rect x="338.7" y="344.2" width="1.5" height="1.5" fill="#222"/>
<rect x="339.7" y="341.2" width="1.5" height="1.5" fill="#222"/>
<rect x="340.0" y="339.1" width="1.5" height="1.5" fill="#555"/>
<rect x="340.7" y="336.8" width="1.5" height="1.5" fill="#555"/>
<rect x="341.8" y="333.7" width="1.5" height="1.5" fill="#000"/>
<rect x="342.4" y="331.6" width="1.5" height="1.5" fill="#333"/>
<rect x="343.4" y="327.8" width="1.5" height="1.5" fill="#333"/>
<rect x="344.8" y="326.3" width="1.5" height="1.5" fill="#333"/>
<rect x="346.2" y="323.8" width="1.5" height="1.5" fill="#000"/>
<rect x="347.3" y="320.2" width="1.5" height="1.5" fill="#333"/>
<rect x="348.7" y="318.3" width="1.5" height="1.5" fill="#000"/>
<rect x="350.0" y="316.0" width="1.5" height="1.5" fill="#000"/>
<rect x="351.1" y="312.8" width="1.5" height="1.5" fill="#000"/>
<rect x="351.7" y="313.9" width="1.5" height="1.5" fill="#555"/>
<rect x="352.7" y="317.6" width="1.5" height="1.5" fill="#000"/>
<rect x="353.2" y="320.2" width="1.5" height="1.5" fill="#000"/>
<rect x="352.9" y="322.6" width="1.5" height="1.5" fill="#333"/>
<rect x="354.2" y="323.3" width="1.5" height="1.5" fill="#000"/>
<rect x="354.6" y="319.9" width="1.5" height="1.5" fill="#000"/>
<rect x="355.0" y="318.4" width="1.5" height="1.5" fill="#333"/>
<rect x="355.3" y="314.6" width="1.5" height="1.5" fill="#222"/>
<rect x="355.7" y="317.0" width="1.5" height="1.5" fill="#333"/>
<rect x="356.0" y="319.8" width="1.5" height="1.5" fill="#222"/>
<rect x="356.6" y="322.4" width="1.5" height="1.5" fill="#333"/>
<rect x="357.3" y="325.3" width="1.5" height="1.5" fill="#333"/>
<rect x="357.1" y="327.2" width="1.5" height="1.5" fill="#333"/>
<rect x="358.1" y="330.9" width="1.5" height="1.5" fill="#222"/>
<rect x="358.4" y="332.9" width="1.5" height="1.5" fill="#333"/>
<rect x="358.7" y="336.3" width="1.5" height="1.5" fill="#555"/>
<rect x="359.2" y="338.7" width="1.5" height="1.5" fill="#222"/>
<rect x="359.7" y="341.2" width="1.5" height="1.5" fill="#555"/>
<rect x="360.9" y="344.3" width="1.5" height="1.5" fill="#333"/>
<rect x="360.9" y="348.0" width="1.5" height="1.5" fill="#333"/>
<rect x="361.8" y="349.9" width="1.5" height="1.5" fill="#333"/>
<rect x="362.7" y="352.1" width="1.5" height="1.5" fill="#000"/>
<rect x="363.2" y="354.8" width="1.5" height="1.5" fill="#000"/>
<rect x="363.7" y="357.8" width="1.5" height="1.5" fill="#000"/>
<rect x="364.3" y="361.4" width="1.5" height="1.5" fill="#333"/>
<rect x="365.2" y="362.8" width="1.5" height="1.5" fill="#222"/>
<rect x="366.2" y="366.5" width="1.5" height="1.5" fill="#222"/>
<rect x="366.8" y="369.1" width="1.5" height="1.5" fill="#222"/>
<rect x="368.2" y="371.6" width="1.5" height="1.5" fill="#333"/>
<rect x="369.4" y="374.0" width="1.5" height="1.5" fill="#555"/>
<rect x="370.4" y="376.5" width="1.5" height="1.5" fill="#222"/>
<rect x="372.1" y="377.9" width="1.5" height="1.5" fill="#555"/>
<rect x="374.0" y="381.1" width="1.5" height="1.5" fill="#555"/>
<rect x="375.5" y="383.8" width="1.5" height="1.5" fill="#222"/>
<rect x="377.7" y="385.3" width="1.5" height="1.5" fill="#000"/>
<rect x="380.1" y="385.8" width="1.5" height="1.5" fill="#555"/>
<rect x="382.7" y="386.5" width="1.5" height="1.5" fill="#333"/>
<rect x="385.5" y="387.4" width="1.5" height="1.5" fill="#555"/>
<rect x="388.6" y="386.6" width="1.5" height="1.5" fill="#555"/>
<rect x="391.1" y="387.2" width="1.5" height="1.5" fill="#333"/>
<rect x="394.3" y="387.6" width="1.5" height="1.5" fill="#555"/>
<rect x="396.9" y="386.8" width="1.5" height="1.5" fill="#333"/>
<rect x="399.5" y="388.0" width="1.5" height="1.5" fill="#222"/>
<rect x="402.8" y="386.6" width="1.5" height="1.5" fill="#555"/>
<rect x="405.6" y="387.9" width="1.5" height="1.5" fill="#000"/>
<rect x="407.6" y="387.4" width="1.5" height="1.5" fill="#555"/>
<rect x="410.6" y="387.6" width="1.5" height="1.5" fill="#333"/>
<rect x="413.6" y="388.6" width="1.5" height="1.5" fill="#555"/>
<rect x="416.3" y="387.6" width="1.5" height="1.5" fill="#333"/>
<rect x="419.1" y="387.0" width="1.5" height="1.5" fill="#000"/>
<rect x="422.0" y="387.3" width="1.5" height="1.5" fill="#333"/>
<rect x="424.8" y="388.3" width="1.5" height="1.5" fill="#222"/>
<rect x="427.9" y="389.0" width="1.5" height="1.5" fill="#555"/>
<rect x="430.3" y="388.7" width="1.5" height="1.5" fill="#333"/>
<rect x="433.3" y="388.7" width="1.5" height="1.5" fill="#000"/>
<rect x="435.7" y="388.0" width="1.5" height="1.5" fill="#000"/>
<rect x="439.1" y="388.6" width="1.5" height="1.5" fill="#000"/>
<path d="M304.90 407.20L516.90 408.40" fill="none" stroke="#0a0a0a" stroke-width="1.6"/>
<path d="M516.90 407.60L516.60 514.30" fill="none" stroke="#2a2a2a" stroke-width="1.35"/>
<path d="M304.90 407.20L303.90 513.00L516.60 514.30" fill="none" stroke="#0a0a0a" stroke-width="2.1" stroke-linejoin="miter"/>
<path d="M300.30 513.00H303.90M300.55 486.55H304.15M300.80 460.10H304.40M301.05 433.65H304.65M301.30 407.20H304.90" stroke="#0a0a0a" stroke-width="1.4"/>
<path d="M303.90 513.00v3.9M319.91 513.10v3.9M329.27 513.16v3.9M335.91 513.20v3.9M341.07 513.23v3.9M345.28 513.25v3.9M348.84 513.27v3.9M351.92 513.29v3.9M354.64 513.31v3.9M357.07 513.33v3.9M373.08 513.42v3.9M382.45 513.48v3.9M389.09 513.52v3.9M394.24 513.55v3.9M398.45 513.58v3.9M402.01 513.60v3.9M405.10 513.62v3.9M407.82 513.64v3.9M410.25 513.65v3.9M426.26 513.75v3.9M435.62 513.81v3.9M442.26 513.85v3.9M447.42 513.88v3.9M451.63 513.90v3.9M455.19 513.92v3.9M458.27 513.94v3.9M460.99 513.96v3.9M463.43 513.97v3.9M479.43 514.07v3.9M488.80 514.13v3.9M495.44 514.17v3.9M500.59 514.20v3.9M504.80 514.23v3.9M508.36 514.25v3.9M511.45 514.27v3.9M514.17 514.29v3.9M516.60 514.30v3.9" stroke="#0a0a0a" stroke-width="1.25"/>
<text x="304.5" y="524.3" style="font-family:'Liberation Mono',monospace" font-size="8.6" font-weight="bold" fill="#0a0a0a" stroke="#0a0a0a" stroke-width="0.45" text-anchor="middle">.1</text>
<text x="361.9" y="524.6" style="font-family:'Liberation Mono',monospace" font-size="8.6" font-weight="bold" fill="#0a0a0a" stroke="#0a0a0a" stroke-width="0.45" text-anchor="end">1</text>
<text x="415.1" y="524.9" style="font-family:'Liberation Mono',monospace" font-size="8.6" font-weight="bold" fill="#0a0a0a" stroke="#0a0a0a" stroke-width="0.45" text-anchor="end">10</text>
<text x="468.2" y="525.3" style="font-family:'Liberation Mono',monospace" font-size="8.6" font-weight="bold" fill="#0a0a0a" stroke="#0a0a0a" stroke-width="0.45" text-anchor="end">100</text>
<text x="516.9" y="525.6" style="font-family:'Liberation Mono',monospace" font-size="8.6" font-weight="bold" fill="#0a0a0a" stroke="#0a0a0a" stroke-width="0.45" text-anchor="end">1000</text>
<text transform="translate(298.7,408.2) rotate(-90)" font-size="9.6" font-weight="bold" fill="#0a0a0a" stroke="#0a0a0a" stroke-width="0.9" text-anchor="end">37</text>
<text transform="translate(297.9,513.0) rotate(-90)" font-size="10" font-weight="bold" fill="#0a0a0a" stroke="#0a0a0a" stroke-width="0.5" text-anchor="middle">0</text>
<text x="459.2" y="422.4" font-size="13.3" fill="#0a0a0a" stroke="#0a0a0a" stroke-width="0.35" textLength="24.6" lengthAdjust="spacingAndGlyphs">EL-4</text>
<path d="M305.8 501.3 L307.3 498.3 L309.6 497.5 L311.9 493.7 L313.4 490.7 L315.7 483.1 L317.2 478.5 L318.7 475.5 L321.0 470.9 L321.8 461.8 L323.3 454.1 L325.6 452.6 L327.1 449.6 L328.6 443.5 L329.4 435.1 L331.7 437.4 L333.2 443.5 L334.7 442.0 L336.3 449.6 L337.8 452.6 L339.3 457.2 L340.8 463.3 L342.3 470.9 L343.9 477.0 L345.4 483.1 L346.9 489.2 L348.1 498.8 L350.4 497.1 L353.3 497.1 L356.1 500.0 L358.5 502.3 L361.9 505.8 L364.8 508.1 L366.5 504.6 L370.0 504.6 L372.3 508.1 L374.6 509.2 L376.9 506.9 L379.8 506.9 L382.7 508.1 L386.1 509.8 L389.6 510.4 L394.2 511.0 L397.7 511.5 L405.0 512.0" fill="none" stroke="#0a0a0a" stroke-width="2.4" stroke-linejoin="round"/>
<rect x="318.0" y="510.0" width="1.6" height="1.6" fill="#333"/>
<rect x="320.8" y="510.3" width="1.6" height="1.6" fill="#444"/>
<rect x="323.3" y="508.5" width="1.6" height="1.6" fill="#1a1a1a"/>
<rect x="325.6" y="506.5" width="1.6" height="1.6" fill="#1a1a1a"/>
<rect x="327.5" y="505.7" width="1.6" height="1.6" fill="#000"/>
<rect x="329.9" y="504.6" width="1.6" height="1.6" fill="#000"/>
<rect x="332.1" y="500.8" width="1.6" height="1.6" fill="#000"/>
<rect x="333.3" y="499.7" width="1.6" height="1.6" fill="#000"/>
<rect x="335.3" y="496.8" width="1.6" height="1.6" fill="#000"/>
<rect x="336.3" y="494.8" width="1.6" height="1.6" fill="#1a1a1a"/>
<rect x="337.1" y="492.4" width="1.6" height="1.6" fill="#333"/>
<rect x="338.7" y="490.0" width="1.6" height="1.6" fill="#1a1a1a"/>
<rect x="339.2" y="486.5" width="1.6" height="1.6" fill="#000"/>
<rect x="339.6" y="484.0" width="1.6" height="1.6" fill="#000"/>
<rect x="340.1" y="480.4" width="1.6" height="1.6" fill="#444"/>
<rect x="341.3" y="478.6" width="1.6" height="1.6" fill="#000"/>
<rect x="341.7" y="476.0" width="1.6" height="1.6" fill="#333"/>
<rect x="341.7" y="472.5" width="1.6" height="1.6" fill="#333"/>
<rect x="342.3" y="469.8" width="1.6" height="1.6" fill="#000"/>
<rect x="343.4" y="468.2" width="1.6" height="1.6" fill="#000"/>
<rect x="343.4" y="464.6" width="1.6" height="1.6" fill="#444"/>
<rect x="343.7" y="461.4" width="1.6" height="1.6" fill="#444"/>
<rect x="344.7" y="460.0" width="1.6" height="1.6" fill="#444"/>
<rect x="344.7" y="455.9" width="1.6" height="1.6" fill="#1a1a1a"/>
<rect x="345.1" y="454.4" width="1.6" height="1.6" fill="#1a1a1a"/>
<rect x="345.8" y="451.6" width="1.6" height="1.6" fill="#444"/>
<rect x="346.2" y="448.3" width="1.6" height="1.6" fill="#444"/>
<rect x="347.2" y="444.6" width="1.6" height="1.6" fill="#444"/>
<rect x="347.3" y="442.7" width="1.6" height="1.6" fill="#444"/>
<rect x="347.4" y="440.5" width="1.6" height="1.6" fill="#444"/>
<rect x="347.9" y="437.8" width="1.6" height="1.6" fill="#000"/>
<rect x="348.9" y="434.2" width="1.6" height="1.6" fill="#1a1a1a"/>
<rect x="349.5" y="432.4" width="1.6" height="1.6" fill="#444"/>
<rect x="351.0" y="428.4" width="1.6" height="1.6" fill="#444"/>
<rect x="351.8" y="426.8" width="1.6" height="1.6" fill="#000"/>
<rect x="352.5" y="424.5" width="1.6" height="1.6" fill="#1a1a1a"/>
<rect x="353.1" y="421.0" width="1.6" height="1.6" fill="#333"/>
<rect x="353.5" y="417.5" width="1.6" height="1.6" fill="#000"/>
<rect x="353.9" y="414.9" width="1.6" height="1.6" fill="#1a1a1a"/>
<rect x="354.1" y="412.3" width="1.6" height="1.6" fill="#1a1a1a"/>
<rect x="355.0" y="414.3" width="1.6" height="1.6" fill="#1a1a1a"/>
<rect x="355.2" y="416.9" width="1.6" height="1.6" fill="#444"/>
<rect x="355.9" y="420.7" width="1.6" height="1.6" fill="#1a1a1a"/>
<rect x="357.1" y="422.3" width="1.6" height="1.6" fill="#1a1a1a"/>
<rect x="358.1" y="424.9" width="1.6" height="1.6" fill="#1a1a1a"/>
<rect x="359.1" y="428.6" width="1.6" height="1.6" fill="#444"/>
<rect x="359.1" y="430.3" width="1.6" height="1.6" fill="#1a1a1a"/>
<rect x="359.3" y="433.3" width="1.6" height="1.6" fill="#1a1a1a"/>
<rect x="360.1" y="435.4" width="1.6" height="1.6" fill="#000"/>
<rect x="360.2" y="438.4" width="1.6" height="1.6" fill="#444"/>
<rect x="360.2" y="442.0" width="1.6" height="1.6" fill="#1a1a1a"/>
<rect x="360.9" y="444.2" width="1.6" height="1.6" fill="#000"/>
<rect x="361.8" y="447.6" width="1.6" height="1.6" fill="#1a1a1a"/>
<rect x="362.2" y="450.1" width="1.6" height="1.6" fill="#000"/>
<rect x="362.6" y="453.3" width="1.6" height="1.6" fill="#333"/>
<rect x="363.4" y="455.6" width="1.6" height="1.6" fill="#000"/>
<rect x="363.7" y="457.4" width="1.6" height="1.6" fill="#444"/>
<rect x="364.1" y="460.6" width="1.6" height="1.6" fill="#444"/>
<rect x="364.9" y="464.3" width="1.6" height="1.6" fill="#1a1a1a"/>
<rect x="365.4" y="465.8" width="1.6" height="1.6" fill="#333"/>
<rect x="365.9" y="469.4" width="1.6" height="1.6" fill="#333"/>
<rect x="366.7" y="470.9" width="1.6" height="1.6" fill="#444"/>
<rect x="366.3" y="475.2" width="1.6" height="1.6" fill="#333"/>
<rect x="367.1" y="476.7" width="1.6" height="1.6" fill="#333"/>
<rect x="366.5" y="480.9" width="1.6" height="1.6" fill="#1a1a1a"/>
<rect x="367.7" y="482.0" width="1.6" height="1.6" fill="#000"/>
<rect x="368.4" y="485.4" width="1.6" height="1.6" fill="#333"/>
<rect x="368.9" y="488.7" width="1.6" height="1.6" fill="#333"/>
<rect x="370.2" y="491.7" width="1.6" height="1.6" fill="#1a1a1a"/>
<rect x="370.8" y="494.0" width="1.6" height="1.6" fill="#333"/>
<rect x="371.9" y="496.6" width="1.6" height="1.6" fill="#333"/>
<rect x="373.3" y="498.0" width="1.6" height="1.6" fill="#333"/>
<rect x="374.9" y="501.7" width="1.6" height="1.6" fill="#000"/>
<rect x="376.9" y="503.2" width="1.6" height="1.6" fill="#000"/>
<rect x="379.0" y="504.1" width="1.6" height="1.6" fill="#333"/>
<rect x="381.2" y="505.5" width="1.6" height="1.6" fill="#444"/>
<rect x="384.0" y="507.7" width="1.6" height="1.6" fill="#1a1a1a"/>
<rect x="385.9" y="507.8" width="1.6" height="1.6" fill="#444"/>
<rect x="388.8" y="508.8" width="1.6" height="1.6" fill="#444"/>
<rect x="391.6" y="509.9" width="1.6" height="1.6" fill="#1a1a1a"/>
<rect x="394.3" y="509.6" width="1.6" height="1.6" fill="#1a1a1a"/>
<rect x="397.2" y="509.2" width="1.6" height="1.6" fill="#333"/>
<rect x="399.7" y="509.5" width="1.6" height="1.6" fill="#1a1a1a"/>
<rect x="402.8" y="510.1" width="1.6" height="1.6" fill="#000"/>
<path d="M303.90 527.90L517.00 529.80" fill="none" stroke="#0a0a0a" stroke-width="1.6"/>
<path d="M517.00 529.00L517.20 636.20" fill="none" stroke="#2a2a2a" stroke-width="1.35"/>
<path d="M303.90 527.90L303.10 635.00L517.20 636.20" fill="none" stroke="#0a0a0a" stroke-width="2.1" stroke-linejoin="miter"/>
<path d="M299.50 635.00H303.10M299.70 608.23H303.30M299.90 581.45H303.50M300.10 554.67H303.70M300.30 527.90H303.90" stroke="#0a0a0a" stroke-width="1.4"/>
<path d="M303.10 635.00v3.9M319.21 635.09v3.9M328.64 635.14v3.9M335.33 635.18v3.9M340.51 635.21v3.9M344.75 635.23v3.9M348.33 635.25v3.9M351.44 635.27v3.9M354.18 635.29v3.9M356.62 635.30v3.9M372.74 635.39v3.9M382.16 635.44v3.9M388.85 635.48v3.9M394.04 635.51v3.9M398.28 635.53v3.9M401.86 635.55v3.9M404.96 635.57v3.9M407.70 635.59v3.9M410.15 635.60v3.9M426.26 635.69v3.9M435.69 635.74v3.9M442.38 635.78v3.9M447.56 635.81v3.9M451.80 635.83v3.9M455.38 635.85v3.9M458.49 635.87v3.9M461.23 635.89v3.9M463.68 635.90v3.9M479.79 635.99v3.9M489.21 636.04v3.9M495.90 636.08v3.9M501.09 636.11v3.9M505.33 636.13v3.9M508.91 636.15v3.9M512.01 636.17v3.9M514.75 636.19v3.9M517.20 636.20v3.9" stroke="#0a0a0a" stroke-width="1.25"/>
<text x="303.7" y="646.3" style="font-family:'Liberation Mono',monospace" font-size="8.6" font-weight="bold" fill="#0a0a0a" stroke="#0a0a0a" stroke-width="0.45" text-anchor="middle">.1</text>
<text x="361.4" y="646.6" style="font-family:'Liberation Mono',monospace" font-size="8.6" font-weight="bold" fill="#0a0a0a" stroke="#0a0a0a" stroke-width="0.45" text-anchor="end">1</text>
<text x="415.0" y="646.9" style="font-family:'Liberation Mono',monospace" font-size="8.6" font-weight="bold" fill="#0a0a0a" stroke="#0a0a0a" stroke-width="0.45" text-anchor="end">10</text>
<text x="468.5" y="647.2" style="font-family:'Liberation Mono',monospace" font-size="8.6" font-weight="bold" fill="#0a0a0a" stroke="#0a0a0a" stroke-width="0.45" text-anchor="end">100</text>
<text x="517.5" y="647.5" style="font-family:'Liberation Mono',monospace" font-size="8.6" font-weight="bold" fill="#0a0a0a" stroke="#0a0a0a" stroke-width="0.45" text-anchor="end">1000</text>
<text transform="translate(297.7,528.9) rotate(-90)" font-size="9.6" font-weight="bold" fill="#0a0a0a" stroke="#0a0a0a" stroke-width="0.9" text-anchor="end">35</text>
<text transform="translate(297.1,635.0) rotate(-90)" font-size="10" font-weight="bold" fill="#0a0a0a" stroke="#0a0a0a" stroke-width="0.5" text-anchor="middle">0</text>
<text x="459.2" y="548.3" font-size="13.3" fill="#0a0a0a" stroke="#0a0a0a" stroke-width="0.35" textLength="25.4" lengthAdjust="spacingAndGlyphs">P815</text>
<path d="M304.6 624.8 L306.1 618.0 L308.4 611.1 L309.9 602.0 L312.2 598.9 L314.5 597.4 L316.0 592.8 L317.5 580.7 L319.0 571.5 L321.3 567.0 L322.1 557.8 L323.6 556.3 L325.1 561.6 L326.6 556.3 L328.2 551.7 L329.7 546.4 L331.2 551.7 L332.0 563.9 L333.5 565.4 L335.0 562.4 L335.8 570.0 L337.3 580.7 L338.8 588.3 L339.9 598.9 L341.1 606.5 L342.6 614.2 L344.1 620.2 L346.4 626.3 L348.7 630.9 L352.5 633.2 L358.0 633.5" fill="none" stroke="#0a0a0a" stroke-width="2.0" stroke-linejoin="round"/>
<rect x="303.5" y="631.3" width="1.6" height="1.6" fill="#000"/>
<rect x="306.3" y="631.7" width="1.6" height="1.6" fill="#1a1a1a"/>
<rect x="309.4" y="632.0" width="1.6" height="1.6" fill="#555"/>
<rect x="311.6" y="630.4" width="1.6" height="1.6" fill="#555"/>
<rect x="313.8" y="629.6" width="1.6" height="1.6" fill="#333"/>
<rect x="315.9" y="627.9" width="1.6" height="1.6" fill="#1a1a1a"/>
<rect x="318.4" y="626.5" width="1.6" height="1.6" fill="#555"/>
<rect x="320.9" y="623.7" width="1.6" height="1.6" fill="#1a1a1a"/>
<rect x="321.9" y="621.7" width="1.6" height="1.6" fill="#555"/>
<rect x="323.2" y="618.5" width="1.6" height="1.6" fill="#333"/>
<rect x="323.8" y="616.6" width="1.6" height="1.6" fill="#000"/>
<rect x="324.9" y="613.7" width="1.6" height="1.6" fill="#1a1a1a"/>
<rect x="325.8" y="611.1" width="1.6" height="1.6" fill="#000"/>
<rect x="326.7" y="608.7" width="1.6" height="1.6" fill="#333"/>
<rect x="327.6" y="606.2" width="1.6" height="1.6" fill="#000"/>
<rect x="328.1" y="604.3" width="1.6" height="1.6" fill="#555"/>
<rect x="328.9" y="601.1" width="1.6" height="1.6" fill="#333"/>
<rect x="329.8" y="598.0" width="1.6" height="1.6" fill="#555"/>
<rect x="330.9" y="595.8" width="1.6" height="1.6" fill="#333"/>
<rect x="331.3" y="593.4" width="1.6" height="1.6" fill="#333"/>
<rect x="332.6" y="590.7" width="1.6" height="1.6" fill="#333"/>
<rect x="333.5" y="586.5" width="1.6" height="1.6" fill="#000"/>
<rect x="333.7" y="584.4" width="1.6" height="1.6" fill="#1a1a1a"/>
<rect x="334.8" y="581.4" width="1.6" height="1.6" fill="#1a1a1a"/>
<rect x="335.4" y="579.6" width="1.6" height="1.6" fill="#333"/>
<rect x="336.8" y="576.3" width="1.6" height="1.6" fill="#1a1a1a"/>
<rect x="338.0" y="573.8" width="1.6" height="1.6" fill="#1a1a1a"/>
<rect x="339.0" y="571.7" width="1.6" height="1.6" fill="#333"/>
<rect x="340.4" y="568.5" width="1.6" height="1.6" fill="#000"/>
<rect x="340.6" y="566.4" width="1.6" height="1.6" fill="#555"/>
<rect x="342.6" y="564.6" width="1.6" height="1.6" fill="#555"/>
<rect x="343.4" y="561.7" width="1.6" height="1.6" fill="#333"/>
<rect x="344.4" y="558.8" width="1.6" height="1.6" fill="#1a1a1a"/>
<rect x="345.7" y="555.5" width="1.6" height="1.6" fill="#555"/>
<rect x="346.7" y="555.8" width="1.6" height="1.6" fill="#000"/>
<rect x="347.4" y="558.8" width="1.6" height="1.6" fill="#1a1a1a"/>
<rect x="347.7" y="560.7" width="1.6" height="1.6" fill="#555"/>
<rect x="347.8" y="563.5" width="1.6" height="1.6" fill="#000"/>
<rect x="349.6" y="566.5" width="1.6" height="1.6" fill="#333"/>
<rect x="350.3" y="568.3" width="1.6" height="1.6" fill="#1a1a1a"/>
<rect x="351.9" y="571.3" width="1.6" height="1.6" fill="#333"/>
<rect x="352.3" y="574.9" width="1.6" height="1.6" fill="#333"/>
<rect x="354.1" y="576.8" width="1.6" height="1.6" fill="#333"/>
<rect x="355.3" y="579.3" width="1.6" height="1.6" fill="#1a1a1a"/>
<rect x="356.9" y="582.8" width="1.6" height="1.6" fill="#000"/>
<rect x="357.4" y="583.9" width="1.6" height="1.6" fill="#333"/>
<rect x="357.9" y="587.0" width="1.6" height="1.6" fill="#555"/>
<rect x="358.8" y="590.0" width="1.6" height="1.6" fill="#1a1a1a"/>
<rect x="358.9" y="592.5" width="1.6" height="1.6" fill="#000"/>
<rect x="360.1" y="595.0" width="1.6" height="1.6" fill="#555"/>
<rect x="360.7" y="597.6" width="1.6" height="1.6" fill="#333"/>
<rect x="361.2" y="601.7" width="1.6" height="1.6" fill="#333"/>
<rect x="361.8" y="603.8" width="1.6" height="1.6" fill="#555"/>
<rect x="362.1" y="605.9" width="1.6" height="1.6" fill="#1a1a1a"/>
<rect x="362.9" y="608.5" width="1.6" height="1.6" fill="#333"/>
<rect x="363.7" y="608.1" width="1.6" height="1.6" fill="#333"/>
<rect x="364.4" y="605.9" width="1.6" height="1.6" fill="#555"/>
<rect x="364.8" y="609.2" width="1.6" height="1.6" fill="#000"/>
<rect x="366.1" y="612.5" width="1.6" height="1.6" fill="#000"/>
<rect x="367.0" y="614.8" width="1.6" height="1.6" fill="#555"/>
<rect x="367.1" y="617.1" width="1.6" height="1.6" fill="#000"/>
<rect x="368.6" y="620.6" width="1.6" height="1.6" fill="#000"/>
<rect x="369.6" y="622.6" width="1.6" height="1.6" fill="#1a1a1a"/>
<rect x="371.3" y="624.2" width="1.6" height="1.6" fill="#555"/>
<rect x="372.8" y="626.2" width="1.6" height="1.6" fill="#000"/>
<rect x="374.8" y="627.6" width="1.6" height="1.6" fill="#000"/>
<rect x="376.8" y="630.1" width="1.6" height="1.6" fill="#1a1a1a"/>
<rect x="379.7" y="630.4" width="1.6" height="1.6" fill="#1a1a1a"/>
<rect x="382.4" y="632.5" width="1.6" height="1.6" fill="#1a1a1a"/>
<rect x="385.2" y="633.3" width="1.6" height="1.6" fill="#333"/>
<rect x="387.7" y="633.0" width="1.6" height="1.6" fill="#333"/>
<rect x="391.0" y="632.9" width="1.6" height="1.6" fill="#000"/>
<rect x="393.9" y="631.7" width="1.6" height="1.6" fill="#333"/>
<rect x="396.4" y="632.4" width="1.6" height="1.6" fill="#333"/>
<rect x="399.4" y="631.4" width="1.6" height="1.6" fill="#333"/>
<rect x="401.6" y="632.2" width="1.6" height="1.6" fill="#000"/>
<rect x="404.3" y="632.8" width="1.6" height="1.6" fill="#1a1a1a"/>
<rect x="407.3" y="631.7" width="1.6" height="1.6" fill="#555"/>
<rect x="409.9" y="633.3" width="1.6" height="1.6" fill="#555"/>
<rect x="412.8" y="631.8" width="1.6" height="1.6" fill="#000"/>
<rect x="415.6" y="632.3" width="1.6" height="1.6" fill="#1a1a1a"/>
<rect x="418.8" y="632.4" width="1.6" height="1.6" fill="#555"/>
<rect x="421.8" y="632.9" width="1.6" height="1.6" fill="#333"/>
<rect x="424.4" y="633.1" width="1.6" height="1.6" fill="#333"/>
<rect x="427.5" y="631.9" width="1.6" height="1.6" fill="#333"/>
<rect x="430.4" y="632.8" width="1.6" height="1.6" fill="#555"/>
<rect x="433.1" y="633.5" width="1.6" height="1.6" fill="#000"/>
<rect x="435.1" y="633.4" width="1.6" height="1.6" fill="#555"/>
</svg></body></html>
